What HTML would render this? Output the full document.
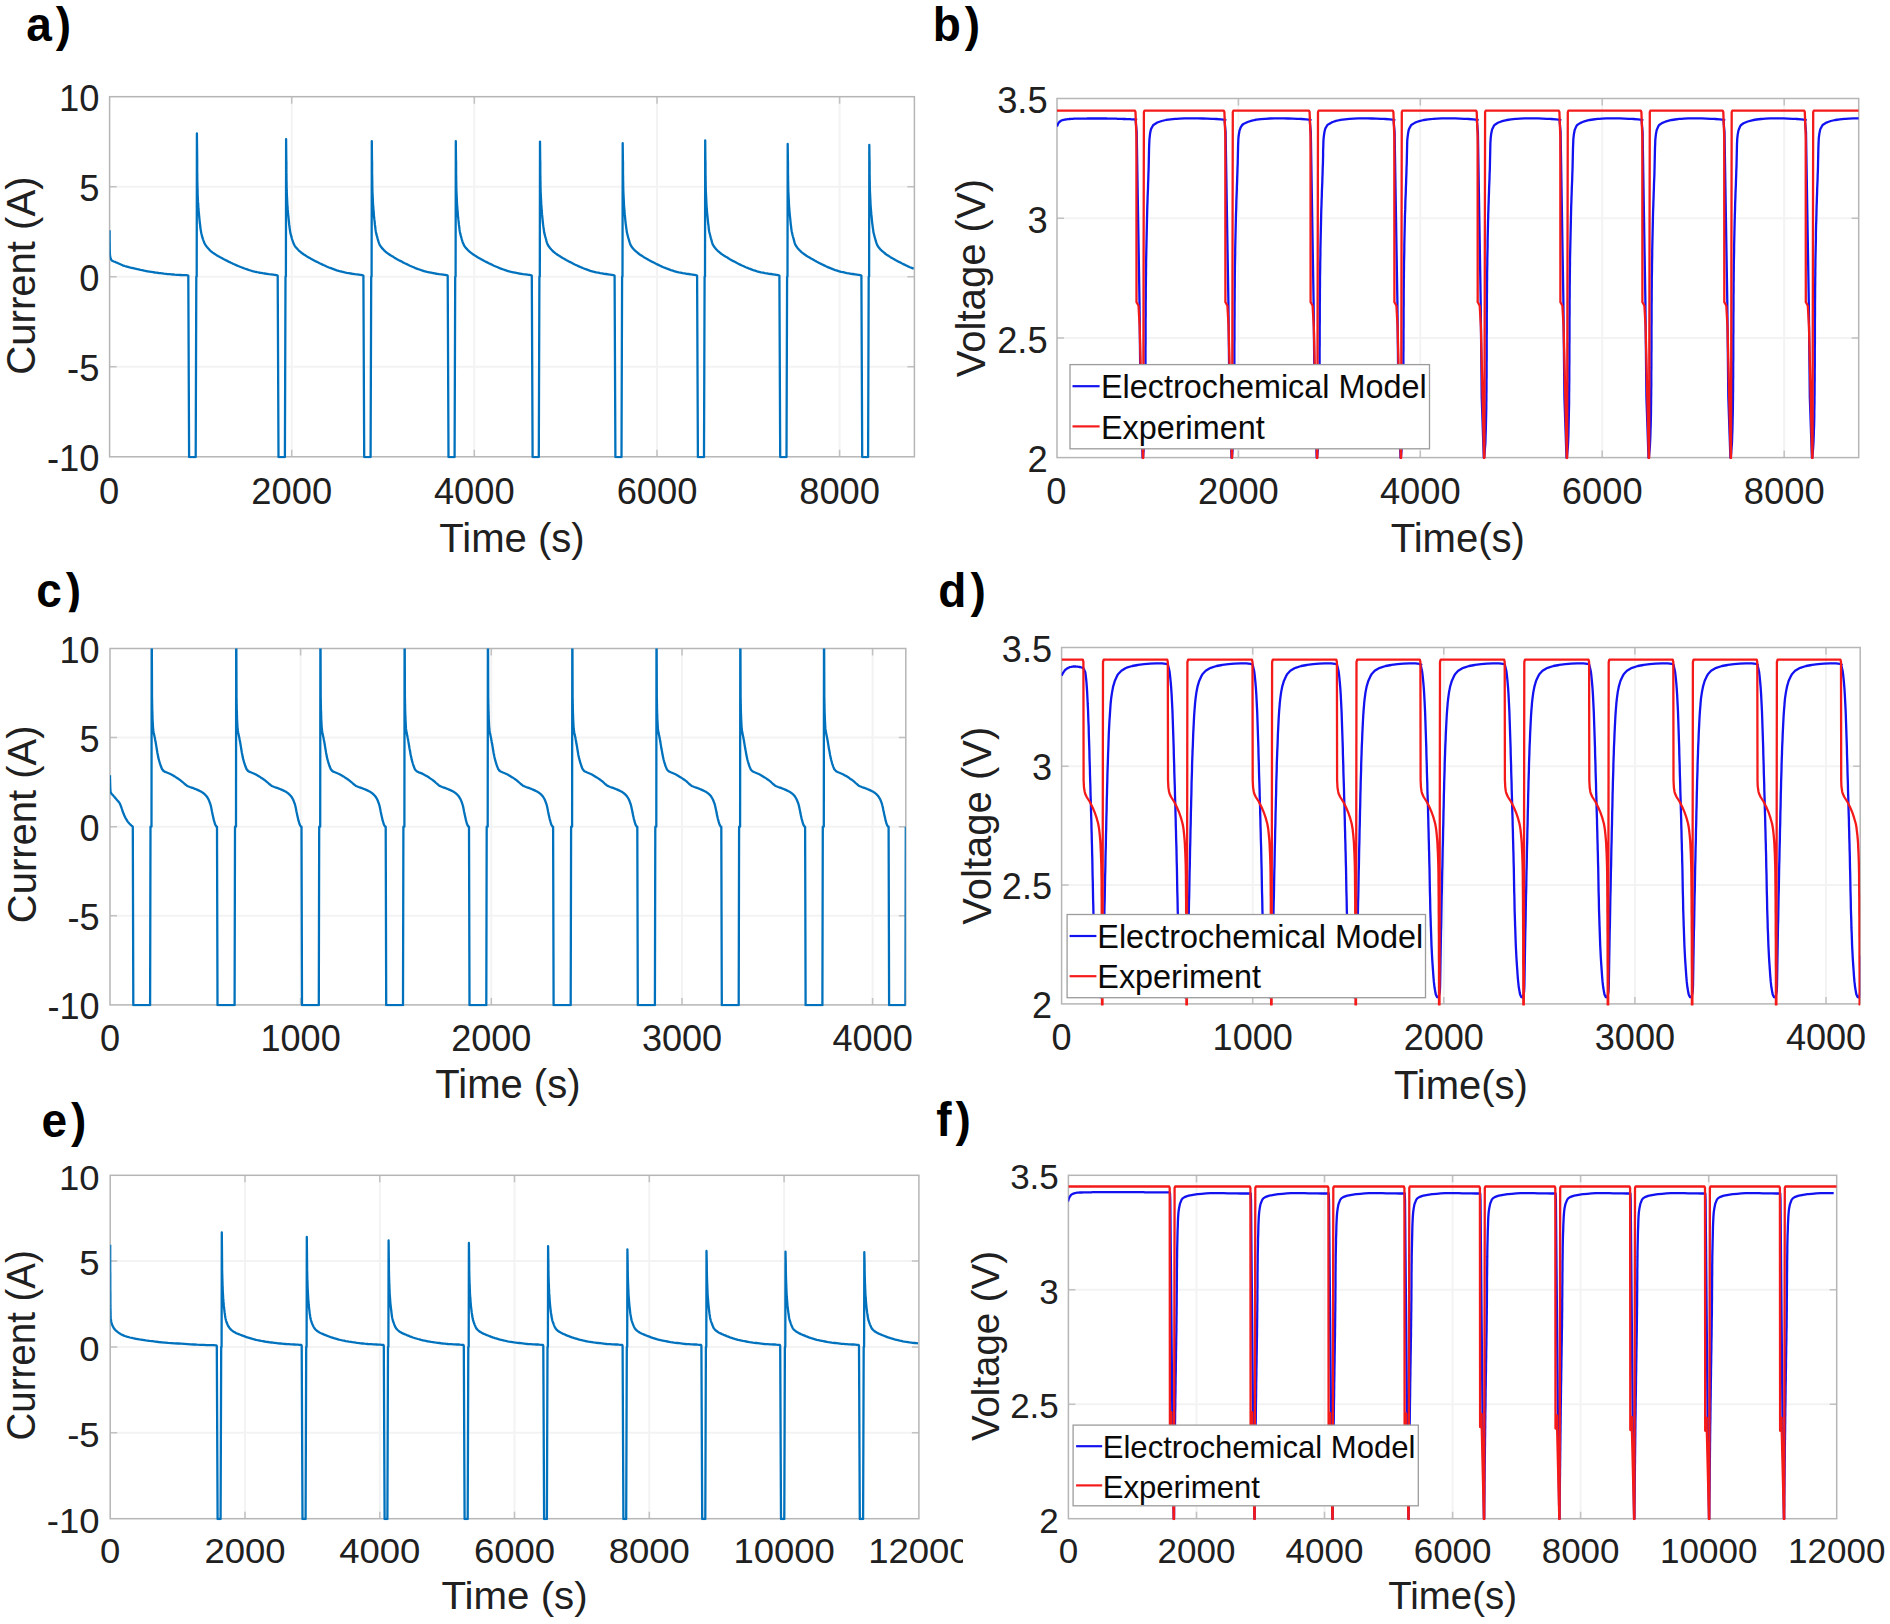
<!DOCTYPE html>
<html lang="en"><head><meta charset="utf-8"><title>Figure</title>
<style>html,body{margin:0;padding:0;background:#fff}body{width:1890px;height:1624px;overflow:hidden}svg{display:block}</style>
</head><body>
<svg width="1890" height="1624" viewBox="0 0 1890 1624">
<rect width="1890" height="1624" fill="#fff"/>
<defs>
<clipPath id="cp-a"><rect x="109.6" y="96.7" width="804.8" height="361.7"/></clipPath>
<clipPath id="cp-b"><rect x="1057" y="98.5" width="801.7" height="360.7"/></clipPath>
<clipPath id="cp-c"><rect x="110" y="648.5" width="795.8" height="358"/></clipPath>
<clipPath id="cp-d"><rect x="1061.6" y="647.5" width="798.6" height="358"/></clipPath>
<clipPath id="cp-e"><rect x="110.2" y="1175.3" width="808.7" height="345"/></clipPath>
<clipPath id="cp-f"><rect x="1068.4" y="1175.3" width="768.3" height="345"/></clipPath>
<clipPath id="cp-etext"><rect x="0" y="1150" width="963" height="474"/></clipPath>
<clipPath id="cp-ctag"><rect x="0" y="560" width="200" height="52.2"/></clipPath>
</defs>
<g id="ax-a">
<rect x="109.6" y="96.7" width="804.8" height="360.1" fill="#fff"/>
<path d="M291.7 96.7V456.8M474.3 96.7V456.8M657 96.7V456.8M839.6 96.7V456.8M109.6 186.7H914.4M109.6 276.8H914.4M109.6 366.8H914.4"  stroke="#f3f3f3" stroke-width="2" fill="none"/>
</g>
<g id="ax-b">
<rect x="1057" y="98.5" width="801.7" height="359.1" fill="#fff"/>
<path d="M1238.4 98.5V457.6M1420.3 98.5V457.6M1602.2 98.5V457.6M1784.2 98.5V457.6M1057 218.2H1858.7M1057 337.9H1858.7"  stroke="#f3f3f3" stroke-width="2" fill="none"/>
</g>
<g id="ax-c">
<rect x="110" y="648.5" width="795.8" height="356.4" fill="#fff"/>
<path d="M300.6 648.5V1004.9M491.3 648.5V1004.9M682 648.5V1004.9M872.6 648.5V1004.9M110 737.6H905.8M110 826.7H905.8M110 915.8H905.8"  stroke="#f3f3f3" stroke-width="2" fill="none"/>
</g>
<g id="ax-d">
<rect x="1061.6" y="647.5" width="798.6" height="356.4" fill="#fff"/>
<path d="M1252.7 647.5V1003.9M1443.8 647.5V1003.9M1634.9 647.5V1003.9M1826 647.5V1003.9M1061.6 766.3H1860.2M1061.6 885.1H1860.2"  stroke="#f3f3f3" stroke-width="2" fill="none"/>
</g>
<g id="ax-e">
<rect x="110.2" y="1175.3" width="808.7" height="343.4" fill="#fff"/>
<path d="M245 1175.3V1518.7M379.8 1175.3V1518.7M514.5 1175.3V1518.7M649.3 1175.3V1518.7M784.1 1175.3V1518.7M110.2 1261.1H918.9M110.2 1347H918.9M110.2 1432.8H918.9"  stroke="#f3f3f3" stroke-width="2" fill="none"/>
</g>
<g id="ax-f">
<rect x="1068.4" y="1175.3" width="768.3" height="343.4" fill="#fff"/>
<path d="M1196.5 1175.3V1518.7M1324.5 1175.3V1518.7M1452.6 1175.3V1518.7M1580.6 1175.3V1518.7M1708.7 1175.3V1518.7M1068.4 1289.8H1836.7M1068.4 1404.2H1836.7"  stroke="#f3f3f3" stroke-width="2" fill="none"/>
</g>
<path d="M291.7 456.8v-7M291.7 96.7v7M474.3 456.8v-7M474.3 96.7v7M657 456.8v-7M657 96.7v7M839.6 456.8v-7M839.6 96.7v7M109.6 186.7h7M914.4 186.7h-7M109.6 276.8h7M914.4 276.8h-7M109.6 366.8h7M914.4 366.8h-7" stroke="#c2c2c2" stroke-width="1.5" fill="none"/>
<rect x="109.6" y="96.7" width="804.8" height="360.1" fill="none" stroke="#b6b6b6" stroke-width="1.5"/>
<path d="M1238.4 457.6v-7M1238.4 98.5v7M1420.3 457.6v-7M1420.3 98.5v7M1602.2 457.6v-7M1602.2 98.5v7M1784.2 457.6v-7M1784.2 98.5v7M1057 218.2h7M1858.7 218.2h-7M1057 337.9h7M1858.7 337.9h-7" stroke="#c2c2c2" stroke-width="1.5" fill="none"/>
<rect x="1057" y="98.5" width="801.7" height="359.1" fill="none" stroke="#b6b6b6" stroke-width="1.5"/>
<path d="M300.6 1004.9v-7M300.6 648.5v7M491.3 1004.9v-7M491.3 648.5v7M682 1004.9v-7M682 648.5v7M872.6 1004.9v-7M872.6 648.5v7M110 737.6h7M905.8 737.6h-7M110 826.7h7M905.8 826.7h-7M110 915.8h7M905.8 915.8h-7" stroke="#c2c2c2" stroke-width="1.5" fill="none"/>
<rect x="110" y="648.5" width="795.8" height="356.4" fill="none" stroke="#b6b6b6" stroke-width="1.5"/>
<path d="M1252.7 1003.9v-7M1252.7 647.5v7M1443.8 1003.9v-7M1443.8 647.5v7M1634.9 1003.9v-7M1634.9 647.5v7M1826 1003.9v-7M1826 647.5v7M1061.6 766.3h7M1860.2 766.3h-7M1061.6 885.1h7M1860.2 885.1h-7" stroke="#c2c2c2" stroke-width="1.5" fill="none"/>
<rect x="1061.6" y="647.5" width="798.6" height="356.4" fill="none" stroke="#b6b6b6" stroke-width="1.5"/>
<path d="M245 1518.7v-7M245 1175.3v7M379.8 1518.7v-7M379.8 1175.3v7M514.5 1518.7v-7M514.5 1175.3v7M649.3 1518.7v-7M649.3 1175.3v7M784.1 1518.7v-7M784.1 1175.3v7M110.2 1261.1h7M918.9 1261.1h-7M110.2 1347h7M918.9 1347h-7M110.2 1432.8h7M918.9 1432.8h-7" stroke="#c2c2c2" stroke-width="1.5" fill="none"/>
<rect x="110.2" y="1175.3" width="808.7" height="343.4" fill="none" stroke="#b6b6b6" stroke-width="1.5"/>
<path d="M1196.5 1518.7v-7M1196.5 1175.3v7M1324.5 1518.7v-7M1324.5 1175.3v7M1452.6 1518.7v-7M1452.6 1175.3v7M1580.6 1518.7v-7M1580.6 1175.3v7M1708.7 1518.7v-7M1708.7 1175.3v7M1068.4 1289.8h7M1836.7 1289.8h-7M1068.4 1404.2h7M1836.7 1404.2h-7" stroke="#c2c2c2" stroke-width="1.5" fill="none"/>
<rect x="1068.4" y="1175.3" width="768.3" height="343.4" fill="none" stroke="#b6b6b6" stroke-width="1.5"/>
<path clip-path="url(#cp-a)" d="M109.6 230.2L109.6 232.1L109.6 233.9L109.6 235.8L109.6 237.6L109.6 239.4L109.6 241.3L109.7 243.1L109.7 245L109.7 246.8L109.7 248.6L109.8 250.5L109.8 252.3L109.8 252.4L109.9 254.1L110.2 256L110.4 257L110.6 257.8L111.1 259.6L111.2 259.8L112.1 260.7L113.8 261.5L115.7 262.2L117.5 263L117.6 263L119.2 263.7L120.9 264.5L122.6 265.3L124.3 265.9L124.6 266L126 266.4L127.8 266.9L129.6 267.4L131.4 267.8L133.2 268.2L135 268.6L136.6 269L136.8 269L138.6 269.4L140.4 269.9L142.2 270.2L144 270.6L145.8 271L147.6 271.3L149.3 271.6L149.4 271.6L151.2 271.9L153.1 272.2L154.9 272.5L156.7 272.7L158.5 273L160.4 273.2L162.2 273.4L164 273.7L165.9 273.9L167.7 274.1L169.5 274.2L171.4 274.4L173.2 274.5L173.9 274.6L175 274.7L176.9 274.8L178.7 274.9L180.5 275L182.4 275.1L184.2 275.2L186.1 275.2L187.9 275.3L188.3 275.7L189.1 457.1L195.7 457.1L196.3 276.7L196.7 276.7L196.9 133.4L197.2 160L197.2 162.1L197.2 164.2L197.2 166.3L197.2 168.4L197.2 170.5L197.2 172.6L197.3 174.7L197.3 176.8L197.3 178.9L197.3 181L197.4 183.1L197.4 185.2L197.5 187L197.5 187.3L197.5 189.4L197.6 191.4L197.6 193.5L197.7 195.6L197.8 197.7L197.9 199.8L198 201.9L198.2 203.8L198.2 204L198.3 206.1L198.4 208.2L198.6 210.3L198.8 212.4L199 214.2L199 214.5L199.2 216.6L199.4 218.6L199.6 220.7L199.8 222.8L200.1 224.7L200.1 224.9L200.3 227L200.6 229.1L200.9 231.1L201.1 232L201.3 233.2L201.8 235.2L202.3 237.3L202.7 238.3L203 239.3L203.7 241.2L204.5 243.2L205.2 244.6L205.5 245L206.7 246.7L208.1 248.3L209.5 249.8L209.5 249.9L211.1 251.3L212.7 252.6L214.4 253.8L214.8 254L216.2 254.9L218 256L219.8 257L221.7 258L222.1 258.2L223.5 259L225.4 260L227.2 260.9L229.1 261.9L231 262.8L232.6 263.5L232.9 263.7L234.8 264.5L236.7 265.4L238.7 266.2L240.6 267L242.6 267.8L243 267.9L244.5 268.5L246.5 269.2L248.5 269.9L250.5 270.5L252.5 271.1L253.5 271.3L254.5 271.6L256.6 272L258.6 272.5L260.7 272.8L262.8 273.2L264 273.4L264.8 273.5L266.9 273.8L269 274.1L271.1 274.3L273.2 274.6L274.4 274.8L275.2 274.9L277.3 275.3L277.7 275.7L278.5 457.1L284.9 457.1L285.5 276.7L285.9 276.7L286.1 139.1L286.3 160L286.4 162.1L286.4 164.1L286.4 166.2L286.4 168.2L286.4 170.3L286.4 172.4L286.4 174.4L286.5 176.5L286.5 178.5L286.5 180.6L286.6 182.6L286.6 184.7L286.6 186.8L286.6 187L286.7 188.8L286.7 190.9L286.8 192.9L286.9 195L287 197.1L287.1 199.1L287.2 201.2L287.3 203.2L287.3 203.8L287.4 205.3L287.6 207.3L287.7 209.4L287.9 211.4L288.1 213.5L288.1 214.2L288.3 215.5L288.5 217.6L288.7 219.6L288.9 221.7L289.1 223.7L289.2 224.7L289.4 225.8L289.6 227.8L289.9 229.9L290.2 231.9L290.2 232L290.6 233.9L291.2 235.9L291.7 237.9L291.8 238.3L292.3 239.9L293 241.9L293.7 243.8L294.1 244.6L294.6 245.6L295.8 247.2L297.2 248.8L298.1 249.8L298.6 250.3L300.1 251.7L301.8 253L303.2 254L303.4 254.2L305.2 255.3L306.9 256.4L308.7 257.4L310.2 258.2L310.5 258.4L312.3 259.4L314.1 260.4L315.9 261.4L317.8 262.3L319.6 263.2L320.2 263.5L321.5 264.1L323.3 265L325.2 265.8L327.1 266.7L329 267.5L330.1 267.9L330.9 268.2L332.8 268.9L334.8 269.6L336.7 270.3L338.7 270.9L340.2 271.3L340.7 271.4L342.7 271.9L344.7 272.4L346.7 272.8L348.8 273.1L350.2 273.4L350.8 273.5L352.8 273.8L354.9 274.1L356.9 274.3L358.9 274.6L360.2 274.8L361 274.9L363 275.3L363.4 275.7L364.2 457.1L370.6 457.1L371.2 276.7L371.6 276.7L371.8 141.1L372 160L372.1 162L372.1 164.1L372.1 166.1L372.1 168.2L372.1 170.2L372.1 172.3L372.1 174.3L372.2 176.4L372.2 178.4L372.2 180.4L372.3 182.5L372.3 184.5L372.3 186.6L372.3 187L372.4 188.6L372.4 190.7L372.5 192.7L372.6 194.7L372.7 196.8L372.8 198.8L372.9 200.9L373 202.9L373 203.8L373.1 205L373.3 207L373.4 209L373.6 211.1L373.8 213.1L373.8 214.2L373.9 215.1L374.1 217.2L374.3 219.2L374.6 221.2L374.8 223.3L374.9 224.7L375 225.3L375.3 227.3L375.5 229.4L375.8 231.4L375.9 232L376.2 233.4L376.7 235.4L377.3 237.3L377.5 238.3L377.8 239.3L378.4 241.3L379.1 243.3L379.6 244.6L379.9 245.1L381 246.8L382.3 248.4L383.6 249.8L383.7 249.9L385.2 251.3L386.7 252.6L388.4 253.9L388.6 254L390.1 255L391.8 256.1L393.6 257.1L395.3 258.2L395.4 258.2L397.1 259.2L398.9 260.2L400.7 261.1L402.5 262.1L404.3 263L405.3 263.5L406.2 263.9L408 264.8L409.9 265.7L411.7 266.5L413.6 267.3L415 267.9L415.5 268.1L417.4 268.8L419.3 269.5L421.3 270.2L423.2 270.8L424.9 271.3L425.2 271.4L427.1 271.9L429.1 272.3L431.1 272.7L433.2 273.1L434.8 273.4L435.2 273.5L437.2 273.8L439.2 274.1L441.2 274.3L443.3 274.6L444.5 274.8L445.3 274.9L447.3 275.3L447.7 275.7L448.5 457.1L454.6 457.1L455.2 276.7L455.6 276.7L455.8 141.1L456 160L456.1 162L456.1 164.1L456.1 166.1L456.1 168.2L456.1 170.2L456.1 172.3L456.1 174.3L456.2 176.4L456.2 178.4L456.2 180.5L456.3 182.5L456.3 184.5L456.3 186.6L456.3 187L456.4 188.6L456.4 190.7L456.5 192.7L456.6 194.8L456.7 196.8L456.8 198.8L456.9 200.9L457 202.9L457 203.8L457.1 205L457.3 207L457.4 209.1L457.6 211.1L457.8 213.1L457.8 214.2L457.9 215.2L458.1 217.2L458.3 219.2L458.6 221.3L458.8 223.3L458.9 224.7L459 225.3L459.3 227.4L459.5 229.4L459.8 231.4L459.9 232L460.2 233.4L460.7 235.4L461.3 237.4L461.5 238.3L461.8 239.4L462.4 241.3L463.1 243.3L463.7 244.6L463.9 245.1L465 246.8L466.3 248.4L467.6 249.8L467.7 249.9L469.2 251.3L470.8 252.7L472.4 253.9L472.6 254L474.1 255L475.8 256.1L477.6 257.2L479.4 258.2L479.4 258.2L481.2 259.2L483 260.2L484.8 261.2L486.6 262.1L488.4 263L489.3 263.5L490.2 263.9L492.1 264.8L493.9 265.7L495.8 266.5L497.7 267.3L499.1 267.9L499.6 268.1L501.5 268.8L503.4 269.5L505.3 270.2L507.3 270.8L509 271.3L509.3 271.4L511.2 271.9L513.2 272.3L515.2 272.7L517.3 273.1L518.8 273.4L519.3 273.5L521.3 273.8L523.3 274.1L525.3 274.3L527.4 274.6L528.6 274.8L529.4 274.9L531.4 275.3L531.8 275.7L532.6 457.1L538.8 457.1L539.4 276.7L539.8 276.7L540 141.6L540.2 160L540.3 162L540.3 164.1L540.3 166.1L540.3 168.1L540.3 170.2L540.3 172.2L540.3 174.2L540.4 176.2L540.4 178.3L540.4 180.3L540.5 182.3L540.5 184.4L540.5 186.4L540.5 187L540.6 188.4L540.6 190.5L540.7 192.5L540.8 194.5L540.9 196.5L541 198.6L541.1 200.6L541.2 202.6L541.2 203.8L541.3 204.6L541.4 206.7L541.6 208.7L541.7 210.7L541.9 212.7L542 214.2L542.1 214.8L542.3 216.8L542.5 218.8L542.7 220.8L542.9 222.8L543.1 224.7L543.2 224.9L543.4 226.9L543.7 228.9L544 230.9L544.1 232L544.3 232.9L544.8 234.9L545.3 236.8L545.8 238.3L545.9 238.8L546.4 240.8L547 242.8L547.7 244.6L547.7 244.6L548.7 246.3L550 248L551.3 249.5L551.6 249.8L552.7 251L554.3 252.3L555.9 253.6L556.5 254L557.5 254.7L559.2 255.8L561 256.9L562.7 257.9L563.2 258.2L564.5 258.9L566.2 259.9L568 260.9L569.8 261.9L571.6 262.8L572.9 263.5L573.4 263.8L575.2 264.7L577.1 265.5L578.9 266.4L580.8 267.2L582.5 267.9L582.7 268L584.5 268.7L586.4 269.4L588.4 270.1L590.3 270.8L592.2 271.3L592.2 271.3L594.2 271.8L596.2 272.3L598.2 272.7L600.2 273.1L601.9 273.4L602.2 273.4L604.2 273.8L606.2 274L608.2 274.3L610.2 274.6L611.5 274.8L612.2 274.9L614.2 275.3L614.6 275.7L615.4 457.1L621.5 457.1L622.1 276.7L622.5 276.7L622.7 143.1L622.9 160L623 162L623 164.1L623 166.1L623 168.1L623 170.1L623 172.2L623 174.2L623.1 176.2L623.1 178.3L623.1 180.3L623.2 182.3L623.2 184.3L623.2 186.4L623.2 187L623.3 188.4L623.3 190.4L623.4 192.4L623.5 194.5L623.6 196.5L623.7 198.5L623.8 200.6L623.9 202.6L623.9 203.8L624 204.6L624.1 206.6L624.3 208.6L624.4 210.7L624.6 212.7L624.7 214.2L624.8 214.7L625 216.7L625.2 218.8L625.4 220.8L625.6 222.8L625.8 224.7L625.9 224.8L626.1 226.8L626.4 228.8L626.7 230.8L626.8 232L627 232.8L627.5 234.8L628 236.8L628.4 238.3L628.6 238.7L629.1 240.7L629.7 242.7L630.4 244.5L630.4 244.6L631.3 246.3L632.6 247.9L633.9 249.5L634.3 249.8L635.3 250.9L636.9 252.2L638.5 253.5L639.1 254L640.1 254.7L641.8 255.8L643.5 256.9L645.3 257.9L645.8 258.2L647.1 258.9L648.8 259.9L650.6 260.9L652.4 261.9L654.2 262.8L655.5 263.5L656 263.7L657.8 264.6L659.6 265.5L661.5 266.4L663.3 267.2L665.1 267.9L665.2 267.9L667.1 268.7L669 269.4L670.9 270.1L672.8 270.7L674.7 271.3L674.8 271.3L676.7 271.8L678.7 272.3L680.7 272.7L682.7 273.1L684.4 273.4L684.7 273.4L686.7 273.8L688.7 274L690.7 274.3L692.7 274.6L694 274.8L694.7 274.9L696.7 275.3L697.1 275.7L697.9 457.1L704 457.1L704.6 276.7L705 276.7L705.2 140.3L705.4 160L705.5 162L705.5 164.1L705.5 166.1L705.5 168.1L705.5 170.1L705.5 172.2L705.5 174.2L705.6 176.2L705.6 178.2L705.6 180.3L705.7 182.3L705.7 184.3L705.7 186.3L705.7 187L705.8 188.4L705.8 190.4L705.9 192.4L706 194.4L706.1 196.5L706.2 198.5L706.3 200.5L706.4 202.5L706.4 203.8L706.5 204.6L706.6 206.6L706.8 208.6L706.9 210.6L707.1 212.6L707.2 214.2L707.3 214.7L707.5 216.7L707.7 218.7L707.9 220.7L708.1 222.7L708.3 224.7L708.4 224.7L708.6 226.7L708.8 228.8L709.1 230.8L709.3 232L709.5 232.8L710 234.7L710.5 236.7L710.9 238.3L711 238.6L711.6 240.6L712.1 242.6L712.8 244.5L712.9 244.6L713.8 246.2L715 247.8L716.3 249.4L716.7 249.8L717.7 250.8L719.3 252.2L720.9 253.5L721.6 254L722.5 254.6L724.2 255.8L725.9 256.8L727.7 257.8L728.3 258.2L729.4 258.9L731.2 259.9L732.9 260.9L734.7 261.8L736.5 262.8L737.9 263.5L738.3 263.7L740.1 264.6L742 265.5L743.8 266.3L745.7 267.2L747.5 267.9L747.5 267.9L749.4 268.7L751.3 269.4L753.2 270.1L755.1 270.7L757.1 271.3L757.1 271.3L759 271.8L761 272.3L763 272.7L765 273.1L766.7 273.4L767 273.4L769 273.8L771 274L773 274.3L775 274.6L776.3 274.8L777 274.9L779 275.3L779.4 275.7L780.2 457.1L786.5 457.1L787.1 276.7L787.5 276.7L787.7 144L787.9 160L788 162L788 164L788 166.1L788 168.1L788 170.1L788 172.1L788 174.1L788.1 176.2L788.1 178.2L788.1 180.2L788.2 182.2L788.2 184.2L788.2 186.3L788.2 187L788.3 188.3L788.3 190.3L788.4 192.3L788.5 194.3L788.6 196.4L788.7 198.4L788.8 200.4L788.9 202.4L788.9 203.8L789 204.4L789.1 206.5L789.3 208.5L789.4 210.5L789.6 212.5L789.7 214.2L789.8 214.5L790 216.5L790.2 218.5L790.4 220.5L790.6 222.6L790.8 224.6L790.8 224.7L791.1 226.6L791.3 228.6L791.6 230.6L791.8 232L792 232.6L792.4 234.5L792.9 236.5L793.4 238.3L793.5 238.4L794 240.4L794.5 242.4L795.2 244.3L795.3 244.6L796.1 246L797.3 247.7L798.6 249.2L799.1 249.8L800 250.7L801.5 252.1L803.1 253.3L804 254L804.7 254.5L806.4 255.7L808.1 256.7L809.9 257.7L810.6 258.2L811.6 258.8L813.4 259.8L815.1 260.8L816.9 261.8L818.7 262.7L820.2 263.5L820.5 263.6L822.3 264.5L824.1 265.4L825.9 266.3L827.8 267.1L829.6 267.9L829.7 267.9L831.5 268.6L833.4 269.4L835.3 270.1L837.2 270.7L839.2 271.3L839.3 271.3L841.1 271.8L843.1 272.2L845 272.7L847 273.1L848.8 273.4L849 273.4L851 273.8L853 274L855 274.3L857 274.6L858.3 274.8L859 274.9L861 275.3L861.4 275.7L862.2 457.1L868.1 457.1L868.7 276.7L869.1 276.7L869.3 144.8L869.5 160L869.6 162L869.6 164.1L869.6 166.1L869.6 168.1L869.6 170.1L869.6 172.2L869.6 174.2L869.7 176.2L869.7 178.3L869.7 180.3L869.8 182.3L869.8 184.3L869.8 186.4L869.8 187L869.9 188.4L869.9 190.4L870 192.4L870.1 194.5L870.2 196.5L870.3 198.5L870.4 200.6L870.5 202.6L870.5 203.8L870.6 204.6L870.7 206.6L870.9 208.6L871 210.7L871.2 212.7L871.3 214.2L871.4 214.7L871.6 216.7L871.8 218.8L872 220.8L872.2 222.8L872.4 224.7L872.5 224.8L872.7 226.8L873 228.8L873.3 230.8L873.4 232L873.6 232.8L874.1 234.8L874.6 236.8L875 238.3L875.2 238.7L875.7 240.7L876.3 242.7L877 244.5L877 244.6L877.9 246.3L879.2 247.9L880.5 249.5L880.9 249.8L881.9 250.9L883.5 252.2L885.1 253.5L885.7 254L886.7 254.7L888.4 255.8L890.1 256.9L891.9 257.9L892.4 258.2L893.7 258.9L895.4 259.9L897.2 260.9L899 261.9L900.8 262.8L902.1 263.5L902.6 263.7L904.4 264.6L906.2 265.5L908.1 266.4L909.9 267.2L911.7 267.9L911.8 267.9L913.7 268.7" fill="none" stroke="#0072bd" stroke-width="2.3" stroke-linejoin="round"/>
<path clip-path="url(#cp-c)" d="M110 775.3L110 776.5L110 777.7L110 778.9L110.1 780.1L110.1 781.3L110.1 782.4L110.2 783.6L110.2 784.8L110.2 785L110.2 786L110.3 787.3L110.3 788.5L110.4 789.7L110.5 790.8L110.5 791.3L110.6 791.9L111 792.9L111.7 793.9L112.5 794.8L113.4 795.8L114.3 796.7L114.9 797.5L115 797.7L115.8 798.6L116.6 799.5L117.4 800.4L118.2 801.3L118.9 802.2L119.6 803.2L119.8 803.6L120.1 804.2L120.6 805.3L121 806.4L121.4 807.5L121.8 808.7L122.2 809.8L122.5 811L122.9 812.1L123.4 813.2L123.5 813.5L123.8 814.3L124.3 815.4L124.8 816.5L125.3 817.6L125.9 818.7L126.5 819.7L127.1 820.7L127.2 820.9L127.7 821.6L128.5 822.6L129.3 823.5L130.1 824.3L130.9 825.1L131 825.2L131.9 826L132.8 826.7L132.8 826.7L133.3 1005.2L150.1 1005.2L150.5 826.7L151.5 826.7L151.7 608.5L152 690L152 691.9L152 693.8L152 695.6L152 697.5L152.1 699.4L152.1 701.2L152.1 703.1L152.2 705L152.2 706.8L152.2 708.7L152.3 710.5L152.4 712.4L152.4 714.3L152.5 716.1L152.5 718L152.6 719.8L152.7 721.7L152.8 723.5L152.9 725.4L152.9 726.2L153 727.2L153.2 729L153.4 730.9L153.7 732.7L154.1 734.5L154.5 736.4L154.9 738.2L155.2 740L155.4 741L155.6 741.9L155.9 743.7L156.2 745.6L156.5 747.4L156.8 749.2L157.1 751.1L157.4 752.9L157.8 754.7L158.1 756.6L158.5 758.2L158.5 758.4L159 760.2L159.5 762L160 763.7L160.6 765.5L161 766.5L161.3 767.3L162 769L162.2 769.3L163.1 770.5L163.7 771L164.5 771.6L166.2 772.3L168 773L169.8 773.7L170.8 774.2L171.4 774.5L173.1 775.4L174.7 776.4L176.2 777.4L177.8 778.4L179.3 779.5L180.6 780.4L180.8 780.6L182.3 781.8L183.7 783L185.1 784.3L186.6 785.4L187.4 785.9L188.1 786.3L189.8 787L191.6 787.6L193.4 788.2L195.1 788.9L195.4 789L196.9 789.6L198.6 790.4L200.3 791.2L201.9 792.1L202.8 792.7L203.4 793.1L204.8 794.4L206.1 795.7L207.1 797L207.2 797.2L208.2 798.8L209 800.5L209.7 802.3L210.2 803.8L210.3 804L210.8 805.8L211.2 807.6L211.6 809.4L211.9 811.3L212.3 813.1L212.7 814.9L212.7 814.9L213.1 816.7L213.5 818.6L213.9 820.4L214.5 822.2L214.5 822.3L215 824L215.8 825.7L216.3 826.5L217 827L217 826.7L217.5 1005.2L234.6 1005.2L235 826.7L236 826.7L236.2 608.5L236.5 690L236.5 691.9L236.5 693.8L236.5 695.6L236.5 697.5L236.6 699.4L236.6 701.2L236.6 703.1L236.7 705L236.7 706.8L236.7 708.7L236.8 710.5L236.9 712.4L236.9 714.3L237 716.1L237 718L237.1 719.8L237.2 721.7L237.3 723.5L237.4 725.4L237.4 726.2L237.5 727.2L237.7 729L237.9 730.9L238.2 732.7L238.6 734.5L239 736.4L239.4 738.2L239.7 740L239.9 741L240.1 741.9L240.4 743.7L240.7 745.6L241 747.4L241.3 749.2L241.6 751.1L241.9 752.9L242.3 754.7L242.6 756.6L243 758.2L243 758.4L243.5 760.2L244 762L244.5 763.7L245.1 765.5L245.5 766.5L245.8 767.3L246.5 769L246.7 769.3L247.6 770.5L248.2 771L249 771.6L250.7 772.3L252.5 773L254.3 773.7L255.3 774.2L255.9 774.5L257.6 775.4L259.2 776.4L260.7 777.4L262.3 778.4L263.8 779.5L265.1 780.4L265.3 780.6L266.8 781.8L268.2 783L269.6 784.3L271.1 785.4L271.9 785.9L272.6 786.3L274.3 787L276.1 787.6L277.9 788.2L279.6 788.9L279.9 789L281.4 789.6L283.1 790.4L284.8 791.2L286.4 792.1L287.3 792.7L287.9 793.1L289.3 794.4L290.6 795.7L291.6 797L291.7 797.2L292.7 798.8L293.5 800.5L294.2 802.3L294.7 803.8L294.8 804L295.3 805.8L295.7 807.6L296.1 809.4L296.4 811.3L296.8 813.1L297.2 814.9L297.2 814.9L297.6 816.7L298 818.6L298.4 820.4L299 822.2L299 822.3L299.5 824L300.3 825.7L300.8 826.5L301.5 827L301.5 826.7L302 1005.2L318.8 1005.2L319.2 826.7L320.2 826.7L320.4 608.5L320.7 690L320.7 691.9L320.7 693.8L320.7 695.6L320.7 697.5L320.8 699.4L320.8 701.2L320.8 703.1L320.9 705L320.9 706.8L320.9 708.7L321 710.5L321.1 712.4L321.1 714.3L321.2 716.1L321.2 718L321.3 719.8L321.4 721.7L321.5 723.5L321.6 725.4L321.6 726.2L321.7 727.2L321.9 729L322.1 730.9L322.4 732.7L322.8 734.5L323.2 736.4L323.6 738.2L323.9 740L324.1 741L324.3 741.9L324.6 743.7L324.9 745.6L325.2 747.4L325.5 749.2L325.8 751.1L326.1 752.9L326.5 754.7L326.8 756.6L327.2 758.2L327.2 758.4L327.7 760.2L328.2 762L328.7 763.7L329.3 765.5L329.7 766.5L330 767.3L330.7 769L330.9 769.3L331.8 770.5L332.4 771L333.2 771.6L334.9 772.3L336.7 773L338.5 773.7L339.5 774.2L340.1 774.5L341.8 775.4L343.4 776.4L344.9 777.4L346.5 778.4L348 779.5L349.3 780.4L349.5 780.6L351 781.8L352.4 783L353.8 784.3L355.3 785.4L356.1 785.9L356.8 786.3L358.5 787L360.3 787.6L362.1 788.2L363.8 788.9L364.1 789L365.6 789.6L367.3 790.4L369 791.2L370.6 792.1L371.5 792.7L372.1 793.1L373.5 794.4L374.8 795.7L375.8 797L375.9 797.2L376.9 798.8L377.7 800.5L378.4 802.3L378.9 803.8L379 804L379.5 805.8L379.9 807.6L380.3 809.4L380.6 811.3L381 813.1L381.4 814.9L381.4 814.9L381.8 816.7L382.2 818.6L382.6 820.4L383.2 822.2L383.2 822.3L383.7 824L384.5 825.7L385 826.5L385.7 827L385.7 826.7L386.2 1005.2L403 1005.2L403.4 826.7L404.4 826.7L404.6 608.5L404.9 690L404.9 691.9L404.9 693.7L404.9 695.6L404.9 697.5L405 699.3L405 701.2L405 703.1L405.1 704.9L405.1 706.8L405.1 708.6L405.2 710.5L405.2 712.3L405.3 714.2L405.4 716L405.4 717.9L405.5 719.7L405.6 721.5L405.7 723.4L405.8 725.2L405.8 726.2L405.9 727.1L406 728.9L406.3 730.7L406.6 732.6L407 734.4L407.4 736.2L407.7 738L408.1 739.9L408.3 741L408.4 741.7L408.7 743.5L409 745.3L409.3 747.2L409.6 749L410 750.8L410.3 752.7L410.6 754.5L411 756.3L411.4 758.1L411.4 758.2L411.8 759.9L412.3 761.7L412.8 763.5L413.4 765.3L413.8 766.5L414 767L414.7 768.8L415 769.3L415.7 770.3L416.4 771L417.1 771.4L418.7 772.3L420.5 772.9L422.2 773.6L423.4 774.2L423.9 774.5L425.5 775.4L427.1 776.3L428.7 777.3L430.2 778.4L431.7 779.4L433.1 780.4L433.2 780.5L434.7 781.7L436.1 783L437.5 784.2L438.9 785.4L439.8 785.9L440.5 786.2L442.2 787L443.9 787.6L445.7 788.2L447.4 788.9L447.7 789L449.1 789.6L450.9 790.4L452.6 791.2L454.1 792.1L455 792.7L455.6 793.2L457 794.4L458.3 795.8L459.2 797L459.4 797.3L460.3 798.8L461.1 800.6L461.8 802.3L462.3 803.8L462.4 804.1L462.9 805.8L463.3 807.6L463.7 809.5L464 811.3L464.4 813.1L464.8 814.9L464.8 814.9L465.2 816.8L465.6 818.6L466 820.4L466.5 822.2L466.5 822.3L467.1 824L467.8 825.7L468.3 826.5L469 827L469 826.7L469.5 1005.2L486.3 1005.2L486.7 826.7L487.7 826.7L487.9 608.5L488.2 690L488.2 691.9L488.2 693.8L488.2 695.6L488.2 697.5L488.3 699.4L488.3 701.2L488.3 703.1L488.4 705L488.4 706.8L488.4 708.7L488.5 710.5L488.6 712.4L488.6 714.2L488.7 716.1L488.7 717.9L488.8 719.8L488.9 721.6L489 723.5L489.1 725.3L489.1 726.2L489.2 727.2L489.4 729L489.6 730.9L489.9 732.7L490.3 734.5L490.7 736.4L491.1 738.2L491.4 740L491.6 741L491.7 741.9L492.1 743.7L492.4 745.5L492.7 747.4L493 749.2L493.3 751L493.6 752.9L494 754.7L494.3 756.5L494.7 758.2L494.7 758.3L495.2 760.1L495.7 761.9L496.2 763.7L496.8 765.5L497.2 766.5L497.5 767.2L498.2 769L498.4 769.3L499.3 770.5L499.9 771L500.7 771.5L502.4 772.3L504.1 773L505.9 773.7L507 774.2L507.6 774.5L509.2 775.4L510.8 776.4L512.4 777.4L513.9 778.4L515.5 779.5L516.8 780.4L517 780.6L518.4 781.8L519.8 783L521.2 784.3L522.7 785.4L523.5 785.9L524.3 786.3L526 787L527.7 787.6L529.5 788.2L531.3 788.9L531.5 789L533 789.6L534.7 790.4L536.4 791.2L538 792.1L538.9 792.7L539.5 793.1L541 794.4L542.3 795.8L543.2 797L543.4 797.2L544.3 798.8L545.1 800.5L545.8 802.3L546.3 803.8L546.4 804L546.9 805.8L547.3 807.6L547.7 809.4L548 811.3L548.4 813.1L548.8 814.9L548.8 814.9L549.2 816.7L549.6 818.6L550.1 820.4L550.6 822.2L550.6 822.3L551.1 824L551.9 825.7L552.4 826.5L553.1 827L553.1 826.7L553.6 1005.2L570.7 1005.2L571.1 826.7L572.1 826.7L572.3 608.5L572.6 690L572.6 691.9L572.6 693.7L572.6 695.6L572.6 697.5L572.7 699.4L572.7 701.2L572.7 703.1L572.8 704.9L572.8 706.8L572.8 708.7L572.9 710.5L572.9 712.4L573 714.2L573.1 716.1L573.1 717.9L573.2 719.8L573.3 721.6L573.4 723.5L573.5 725.3L573.5 726.2L573.6 727.2L573.7 729L574 730.8L574.3 732.7L574.7 734.5L575.1 736.3L575.5 738.2L575.8 740L576 741L576.1 741.8L576.4 743.6L576.8 745.5L577.1 747.3L577.4 749.2L577.7 751L578 752.8L578.3 754.7L578.7 756.5L579.1 758.2L579.1 758.3L579.6 760.1L580.1 761.9L580.6 763.7L581.2 765.4L581.6 766.5L581.8 767.2L582.5 768.9L582.8 769.3L583.6 770.4L584.2 771L585 771.5L586.7 772.3L588.4 773L590.2 773.7L591.3 774.2L591.9 774.5L593.5 775.4L595.1 776.4L596.7 777.4L598.2 778.4L599.8 779.5L601.1 780.4L601.3 780.6L602.7 781.7L604.1 783L605.5 784.3L607 785.4L607.8 785.9L608.6 786.3L610.2 787L612 787.6L613.8 788.2L615.5 788.9L615.8 789L617.3 789.6L619 790.4L620.7 791.2L622.3 792.1L623.2 792.7L623.8 793.1L625.2 794.4L626.5 795.8L627.4 797L627.6 797.2L628.5 798.8L629.3 800.5L630 802.3L630.5 803.8L630.6 804L631.1 805.8L631.5 807.6L631.9 809.4L632.3 811.3L632.6 813.1L633 814.9L633 814.9L633.4 816.7L633.8 818.6L634.3 820.4L634.8 822.2L634.8 822.3L635.3 824L636.1 825.7L636.6 826.5L637.3 827L637.3 826.7L637.8 1005.2L654.9 1005.2L655.3 826.7L656.3 826.7L656.5 608.5L656.8 690L656.8 691.9L656.8 693.7L656.8 695.6L656.8 697.5L656.9 699.3L656.9 701.2L656.9 703.1L657 704.9L657 706.8L657 708.6L657.1 710.5L657.1 712.4L657.2 714.2L657.3 716.1L657.3 717.9L657.4 719.8L657.5 721.6L657.6 723.4L657.7 725.3L657.7 726.2L657.8 727.1L657.9 729L658.2 730.8L658.5 732.6L658.9 734.5L659.3 736.3L659.6 738.1L660 739.9L660.2 741L660.3 741.8L660.6 743.6L660.9 745.4L661.2 747.3L661.5 749.1L661.9 750.9L662.2 752.8L662.5 754.6L662.9 756.4L663.3 758.2L663.3 758.2L663.7 760L664.2 761.8L664.8 763.6L665.3 765.4L665.7 766.5L666 767.1L666.7 768.9L666.9 769.3L667.7 770.4L668.4 771L669.1 771.5L670.8 772.3L672.5 773L674.3 773.7L675.5 774.2L676 774.5L677.6 775.4L679.2 776.4L680.8 777.4L682.3 778.4L683.9 779.5L685.2 780.4L685.4 780.5L686.8 781.7L688.2 783L689.6 784.3L691.1 785.4L691.9 785.9L692.6 786.3L694.3 787L696.1 787.6L697.9 788.2L699.6 788.9L699.9 789L701.3 789.6L703 790.4L704.7 791.2L706.3 792.1L707.2 792.7L707.8 793.2L709.3 794.4L710.6 795.8L711.5 797L711.6 797.2L712.5 798.8L713.3 800.5L714 802.3L714.6 803.8L714.6 804L715.1 805.8L715.5 807.6L715.9 809.4L716.3 811.3L716.6 813.1L717 814.9L717 814.9L717.4 816.7L717.8 818.6L718.3 820.4L718.8 822.2L718.8 822.3L719.4 824L720.1 825.7L720.6 826.5L721.3 827L721.3 826.7L721.8 1005.2L738.7 1005.2L739.1 826.7L740.1 826.7L740.3 608.5L740.6 690L740.6 691.9L740.6 693.7L740.6 695.6L740.6 697.5L740.7 699.3L740.7 701.2L740.7 703.1L740.8 704.9L740.8 706.8L740.8 708.6L740.9 710.5L740.9 712.4L741 714.2L741.1 716.1L741.1 717.9L741.2 719.8L741.3 721.6L741.4 723.4L741.5 725.3L741.5 726.2L741.6 727.1L741.7 729L742 730.8L742.3 732.6L742.7 734.5L743.1 736.3L743.4 738.1L743.8 739.9L744 741L744.1 741.8L744.4 743.6L744.7 745.4L745 747.3L745.3 749.1L745.7 750.9L746 752.8L746.3 754.6L746.7 756.4L747.1 758.2L747.1 758.2L747.5 760L748 761.8L748.6 763.6L749.1 765.4L749.5 766.5L749.8 767.1L750.5 768.9L750.7 769.3L751.5 770.4L752.2 771L752.9 771.5L754.6 772.3L756.3 773L758.1 773.7L759.3 774.2L759.8 774.5L761.4 775.4L763 776.4L764.6 777.4L766.1 778.4L767.7 779.5L769 780.4L769.2 780.5L770.6 781.7L772 783L773.4 784.3L774.9 785.4L775.7 785.9L776.4 786.3L778.1 787L779.9 787.6L781.7 788.2L783.4 788.9L783.7 789L785.1 789.6L786.8 790.4L788.5 791.2L790.1 792.1L791 792.7L791.6 793.2L793.1 794.4L794.4 795.8L795.3 797L795.4 797.2L796.3 798.8L797.1 800.5L797.8 802.3L798.4 803.8L798.4 804L798.9 805.8L799.3 807.6L799.7 809.4L800.1 811.3L800.4 813.1L800.8 814.9L800.8 814.9L801.2 816.7L801.6 818.6L802.1 820.4L802.6 822.2L802.6 822.3L803.2 824L803.9 825.7L804.4 826.5L805.1 827L805.1 826.7L805.6 1005.2L822.4 1005.2L822.8 826.7L823.8 826.7L824 608.5L824.3 690L824.3 691.9L824.3 693.7L824.3 695.6L824.3 697.5L824.4 699.3L824.4 701.2L824.4 703.1L824.5 704.9L824.5 706.8L824.5 708.6L824.6 710.5L824.6 712.3L824.7 714.2L824.8 716L824.8 717.9L824.9 719.7L825 721.6L825.1 723.4L825.2 725.3L825.2 726.2L825.3 727.1L825.4 728.9L825.7 730.8L826 732.6L826.4 734.4L826.8 736.2L827.1 738.1L827.5 739.9L827.7 741L827.8 741.7L828.1 743.6L828.4 745.4L828.7 747.2L829 749.1L829.4 750.9L829.7 752.7L830 754.5L830.4 756.4L830.8 758.2L830.8 758.2L831.2 760L831.7 761.8L832.2 763.6L832.8 765.3L833.2 766.5L833.4 767.1L834.1 768.8L834.4 769.3L835.2 770.3L835.9 771L836.6 771.5L838.2 772.3L840 773L841.7 773.7L842.9 774.2L843.4 774.5L845 775.4L846.6 776.3L848.2 777.3L849.7 778.4L851.3 779.4L852.6 780.4L852.8 780.5L854.2 781.7L855.6 783L857 784.2L858.4 785.4L859.3 785.9L860 786.3L861.7 787L863.4 787.6L865.2 788.2L867 788.9L867.2 789L868.7 789.6L870.4 790.4L872.1 791.2L873.7 792.1L874.6 792.7L875.2 793.2L876.6 794.4L877.9 795.8L878.8 797L879 797.3L879.9 798.8L880.7 800.5L881.4 802.3L881.9 803.8L882 804.1L882.4 805.8L882.9 807.6L883.2 809.5L883.6 811.3L884 813.1L884.3 814.9L884.4 814.9L884.8 816.8L885.2 818.6L885.6 820.4L886.1 822.2L886.1 822.3L886.7 824L887.4 825.7L887.9 826.5L888.6 827L888.6 826.7L889.1 1005.2L905.4 1005.2L905.8 826.7" fill="none" stroke="#0072bd" stroke-width="2.3" stroke-linejoin="round"/>
<path clip-path="url(#cp-e)" d="M110.2 1244.8L110.2 1248L110.2 1251.2L110.2 1254.4L110.2 1257.7L110.2 1260.9L110.2 1264.1L110.2 1267.3L110.2 1270.5L110.3 1273.7L110.3 1277L110.3 1280.2L110.3 1283.4L110.3 1286.6L110.3 1289.8L110.4 1293L110.4 1296.2L110.4 1299.5L110.4 1300L110.4 1302.7L110.4 1305.9L110.5 1309.1L110.6 1312.3L110.6 1315.6L110.7 1317.5L110.8 1318.7L111.3 1322L112.2 1325L112.2 1325L113.7 1328L115.1 1329.8L115.7 1330.4L118.1 1332.4L120.9 1334.2L123.9 1335.6L124.9 1336L126.8 1336.6L129.9 1337.5L133 1338.2L136.1 1338.8L139.4 1339.4L142.6 1339.9L145.8 1340.4L149 1340.8L149.6 1340.9L152.2 1341.2L155.4 1341.6L158.6 1342L161.8 1342.3L165 1342.6L168.2 1342.9L171.4 1343.1L174.2 1343.3L174.6 1343.3L177.9 1343.5L181.1 1343.7L184.3 1343.9L187.5 1344.1L190.7 1344.3L193.9 1344.5L197.1 1344.7L200.3 1344.8L203.5 1344.9L206.7 1345.1L210 1345.2L213.2 1345.2L216.4 1345.3L216.8 1346L217.6 1519L220.6 1519L221.2 1347L221.6 1347L221.8 1232.5L222.1 1265L222.1 1266.8L222.1 1268.5L222.1 1270.3L222.2 1272L222.2 1273.8L222.3 1275.6L222.3 1277.3L222.4 1279.1L222.4 1280.8L222.5 1282.6L222.5 1284.4L222.6 1286.1L222.7 1287.9L222.7 1289L222.7 1289.6L222.8 1291.4L222.9 1293.1L223 1294.9L223.1 1296.7L223.2 1298.4L223.4 1300.2L223.5 1301.9L223.5 1301.9L223.7 1303.7L223.8 1305.4L224 1307.2L224.2 1308.9L224.4 1310.5L224.4 1310.7L224.6 1312.4L224.9 1314.2L225.1 1315.9L225.4 1317.7L225.7 1319.1L225.8 1319.4L226.2 1321.1L226.8 1322.8L227.4 1324.3L227.4 1324.4L228.2 1326L229.2 1327.5L230 1328.6L230.2 1328.9L231.5 1330.1L232.9 1331.2L234.3 1332.1L234.4 1332.1L235.9 1333L237.5 1333.7L239.2 1334.3L240.8 1335L241.2 1335.1L242.5 1335.6L244.1 1336.2L245.8 1336.8L247.4 1337.4L249.1 1337.9L249.8 1338.1L250.8 1338.4L252.5 1338.9L254.2 1339.3L255.9 1339.8L257.6 1340.2L259.3 1340.5L260.2 1340.7L261.1 1340.9L262.8 1341.2L264.5 1341.5L266.3 1341.8L268 1342L269.8 1342.3L271.5 1342.5L273.2 1342.7L273.9 1342.8L275 1342.9L276.7 1343.1L278.5 1343.3L280.2 1343.5L282 1343.7L283.7 1343.9L285.5 1344L286.8 1344.1L287.3 1344.1L289 1344.2L290.8 1344.3L292.5 1344.4L294.3 1344.5L296 1344.6L297.8 1344.7L299.6 1344.8L299.7 1344.8L301.3 1345L301.7 1346L302.5 1519L305.6 1519L306.2 1347L306.6 1347L306.8 1237L307.1 1265L307.1 1266.7L307.1 1268.5L307.1 1270.2L307.2 1271.9L307.2 1273.6L307.2 1275.4L307.3 1277.1L307.3 1278.8L307.4 1280.5L307.5 1282.3L307.5 1284L307.6 1285.7L307.6 1287.4L307.7 1289L307.7 1289.2L307.8 1290.9L307.9 1292.6L308 1294.3L308.1 1296.1L308.2 1297.8L308.3 1299.5L308.4 1301.2L308.5 1301.9L308.6 1302.9L308.7 1304.7L308.9 1306.4L309.1 1308.1L309.3 1309.8L309.4 1310.5L309.5 1311.5L309.7 1313.2L310 1315L310.2 1316.7L310.5 1318.4L310.7 1319.1L310.9 1320L311.4 1321.7L312 1323.3L312.4 1324.3L312.7 1324.9L313.4 1326.5L314.3 1328L314.7 1328.6L315.3 1329.3L316.6 1330.5L318 1331.6L318.8 1332.1L319.5 1332.5L321 1333.2L322.6 1333.9L324.2 1334.6L325.5 1335.1L325.8 1335.2L327.4 1335.9L329 1336.5L330.6 1337.1L332.3 1337.6L333.7 1338.1L333.9 1338.2L335.6 1338.6L337.2 1339.1L338.9 1339.6L340.6 1340L342.3 1340.4L343.8 1340.7L344 1340.7L345.6 1341.1L347.3 1341.4L349 1341.7L350.8 1341.9L352.5 1342.2L354.2 1342.4L355.9 1342.7L357 1342.8L357.6 1342.9L359.3 1343.1L361 1343.3L362.7 1343.5L364.5 1343.7L366.2 1343.8L367.9 1344L369.4 1344.1L369.6 1344.1L371.3 1344.2L373.1 1344.3L374.8 1344.4L376.5 1344.5L378.2 1344.6L380 1344.7L381.7 1344.8L381.9 1344.8L383.4 1345L383.8 1346L384.6 1519L387.4 1519L388 1347L388.4 1347L388.6 1240.4L388.9 1265L388.9 1266.7L388.9 1268.4L388.9 1270.1L389 1271.8L389 1273.5L389 1275.2L389.1 1276.9L389.1 1278.6L389.2 1280.4L389.2 1282.1L389.3 1283.8L389.4 1285.5L389.4 1287.2L389.5 1288.9L389.5 1289L389.6 1290.6L389.6 1292.3L389.7 1294L389.8 1295.7L390 1297.4L390.1 1299.1L390.2 1300.8L390.3 1301.9L390.3 1302.5L390.5 1304.2L390.7 1305.9L390.9 1307.6L391.1 1309.3L391.2 1310.5L391.3 1311L391.5 1312.7L391.7 1314.4L391.9 1316.1L392.2 1317.7L392.5 1319.1L392.6 1319.4L393 1321L393.6 1322.7L394.2 1324.3L394.2 1324.3L394.8 1325.9L395.6 1327.4L396.3 1328.6L396.5 1328.8L397.6 1330L399 1331.2L400.3 1332.1L400.4 1332.1L401.8 1332.9L403.4 1333.7L405 1334.3L406.6 1335L406.8 1335.1L408.2 1335.6L409.7 1336.3L411.3 1336.9L412.9 1337.5L414.6 1338L414.9 1338.1L416.2 1338.5L417.8 1339L419.5 1339.4L421.1 1339.9L422.8 1340.3L424.4 1340.7L424.7 1340.7L426.1 1341L427.8 1341.3L429.5 1341.6L431.2 1341.9L432.8 1342.1L434.5 1342.4L436.2 1342.6L437.7 1342.8L437.9 1342.8L439.6 1343L441.3 1343.3L443 1343.5L444.7 1343.6L446.4 1343.8L448.1 1344L449.8 1344.1L449.8 1344.1L451.5 1344.2L453.2 1344.3L454.9 1344.4L456.6 1344.5L458.3 1344.5L460 1344.7L461.7 1344.8L461.9 1344.8L463.4 1345L463.8 1346L464.6 1519L467.7 1519L468.3 1347L468.7 1347L468.9 1242.9L469.2 1265L469.2 1266.7L469.2 1268.4L469.2 1270.1L469.3 1271.8L469.3 1273.5L469.3 1275.2L469.4 1276.9L469.4 1278.6L469.5 1280.3L469.5 1282L469.6 1283.7L469.7 1285.4L469.7 1287L469.8 1288.7L469.8 1289L469.9 1290.4L469.9 1292.1L470 1293.8L470.1 1295.5L470.2 1297.2L470.4 1298.9L470.5 1300.6L470.6 1301.9L470.6 1302.3L470.8 1304L470.9 1305.7L471.1 1307.4L471.3 1309L471.5 1310.5L471.5 1310.7L471.7 1312.4L472 1314.1L472.2 1315.8L472.5 1317.5L472.8 1319.1L472.8 1319.1L473.2 1320.7L473.8 1322.4L474.4 1324L474.5 1324.3L475 1325.6L475.7 1327.1L476.5 1328.6L476.5 1328.6L477.6 1329.8L478.9 1331L480.3 1332L480.5 1332.1L481.7 1332.8L483.3 1333.6L484.8 1334.2L486.4 1334.9L486.9 1335.1L488 1335.5L489.6 1336.2L491.2 1336.8L492.7 1337.4L494.4 1337.9L494.9 1338.1L496 1338.4L497.6 1338.9L499.2 1339.4L500.9 1339.8L502.5 1340.2L504.2 1340.6L504.6 1340.7L505.8 1340.9L507.5 1341.3L509.2 1341.6L510.8 1341.8L512.5 1342.1L514.2 1342.4L515.9 1342.6L517.4 1342.8L517.6 1342.8L519.2 1343L520.9 1343.2L522.6 1343.4L524.3 1343.6L526 1343.8L527.7 1344L529.4 1344.1L529.4 1344.1L531.1 1344.2L532.7 1344.3L534.4 1344.4L536.1 1344.5L537.8 1344.5L539.5 1344.7L541.2 1344.8L541.4 1344.8L542.9 1345L543.3 1346L544.1 1519L546.9 1519L547.5 1347L547.9 1347L548.1 1246.1L548.4 1265L548.4 1266.7L548.4 1268.4L548.4 1270.1L548.5 1271.8L548.5 1273.5L548.5 1275.2L548.6 1276.9L548.6 1278.6L548.7 1280.3L548.7 1282L548.8 1283.7L548.9 1285.4L548.9 1287.1L549 1288.8L549 1289L549.1 1290.5L549.1 1292.2L549.2 1293.8L549.3 1295.5L549.5 1297.2L549.6 1298.9L549.7 1300.6L549.8 1301.9L549.8 1302.3L550 1304L550.1 1305.7L550.3 1307.4L550.5 1309.1L550.7 1310.5L550.7 1310.8L550.9 1312.4L551.2 1314.1L551.4 1315.8L551.7 1317.5L552 1319.1L552 1319.1L552.4 1320.8L553 1322.4L553.6 1324L553.7 1324.3L554.2 1325.6L554.9 1327.2L555.7 1328.6L555.7 1328.6L556.8 1329.9L558.1 1331L559.6 1332L559.7 1332.1L561 1332.8L562.5 1333.6L564.1 1334.2L565.7 1334.9L566.2 1335.1L567.2 1335.6L568.8 1336.2L570.4 1336.8L572 1337.4L573.6 1337.9L574.2 1338.1L575.2 1338.4L576.9 1338.9L578.5 1339.4L580.1 1339.8L581.8 1340.2L583.4 1340.6L583.8 1340.7L585.1 1341L586.8 1341.3L588.4 1341.6L590.1 1341.8L591.8 1342.1L593.5 1342.4L595.2 1342.6L596.7 1342.8L596.8 1342.8L598.5 1343L600.2 1343.2L601.9 1343.4L603.6 1343.6L605.3 1343.8L607 1344L608.7 1344.1L608.7 1344.1L610.3 1344.2L612 1344.3L613.7 1344.4L615.4 1344.5L617.1 1344.5L618.8 1344.7L620.5 1344.8L620.7 1344.8L622.2 1345L622.6 1346L623.4 1519L626.2 1519L626.8 1347L627.2 1347L627.4 1249.3L627.7 1265L627.7 1266.7L627.7 1268.4L627.7 1270.1L627.8 1271.8L627.8 1273.5L627.8 1275.2L627.9 1276.8L627.9 1278.5L628 1280.2L628 1281.9L628.1 1283.6L628.2 1285.3L628.2 1287L628.3 1288.7L628.3 1289L628.4 1290.4L628.4 1292.1L628.5 1293.7L628.6 1295.4L628.7 1297.1L628.9 1298.8L629 1300.5L629.1 1301.9L629.1 1302.2L629.3 1303.9L629.4 1305.6L629.6 1307.2L629.8 1308.9L630 1310.5L630 1310.6L630.2 1312.3L630.4 1314L630.7 1315.6L631 1317.3L631.3 1319L631.3 1319.1L631.7 1320.6L632.2 1322.2L632.8 1323.8L633 1324.3L633.4 1325.4L634.1 1327L634.9 1328.5L635 1328.6L635.9 1329.7L637.2 1330.9L638.6 1331.9L639 1332.1L640 1332.7L641.5 1333.5L643.1 1334.2L644.7 1334.8L645.3 1335.1L646.3 1335.5L647.8 1336.1L649.4 1336.7L651 1337.3L652.6 1337.9L653.3 1338.1L654.2 1338.4L655.8 1338.9L657.4 1339.4L659.1 1339.8L660.7 1340.2L662.4 1340.6L662.9 1340.7L664 1340.9L665.7 1341.2L667.4 1341.5L669 1341.8L670.7 1342.1L672.4 1342.3L674 1342.6L675.7 1342.8L675.7 1342.8L677.4 1343L679.1 1343.2L680.8 1343.4L682.4 1343.6L684.1 1343.8L685.8 1344L687.5 1344.1L687.6 1344.1L689.2 1344.2L690.9 1344.3L692.6 1344.4L694.3 1344.5L696 1344.5L697.6 1344.7L699.3 1344.8L699.5 1344.8L701 1345L701.4 1346L702.2 1519L705.3 1519L705.9 1347L706.3 1347L706.5 1251L706.8 1265L706.8 1266.7L706.8 1268.4L706.8 1270.1L706.9 1271.8L706.9 1273.4L706.9 1275.1L707 1276.8L707 1278.5L707.1 1280.2L707.1 1281.9L707.2 1283.6L707.3 1285.3L707.3 1286.9L707.4 1288.6L707.4 1289L707.5 1290.3L707.5 1292L707.6 1293.7L707.7 1295.4L707.8 1297.1L708 1298.7L708.1 1300.4L708.2 1301.9L708.2 1302.1L708.4 1303.8L708.5 1305.5L708.7 1307.2L708.9 1308.8L709.1 1310.5L709.1 1310.5L709.3 1312.2L709.5 1313.9L709.8 1315.5L710 1317.2L710.3 1318.9L710.4 1319.1L710.8 1320.5L711.3 1322.1L711.9 1323.7L712.1 1324.3L712.5 1325.3L713.1 1326.9L713.9 1328.4L714.1 1328.6L714.9 1329.6L716.2 1330.8L717.6 1331.8L718 1332.1L719 1332.7L720.5 1333.4L722 1334.1L723.6 1334.8L724.4 1335.1L725.2 1335.4L726.7 1336.1L728.3 1336.7L729.9 1337.3L731.5 1337.8L732.3 1338.1L733.1 1338.4L734.7 1338.9L736.3 1339.3L738 1339.8L739.6 1340.2L741.3 1340.6L741.9 1340.7L742.9 1340.9L744.6 1341.2L746.2 1341.5L747.9 1341.8L749.6 1342.1L751.2 1342.3L752.9 1342.6L754.6 1342.8L754.6 1342.8L756.3 1343L757.9 1343.2L759.6 1343.4L761.3 1343.6L763 1343.8L764.6 1344L766.3 1344.1L766.4 1344.1L768 1344.2L769.7 1344.3L771.4 1344.4L773.1 1344.5L774.8 1344.5L776.4 1344.7L778.1 1344.8L778.3 1344.8L779.8 1345L780.2 1346L781 1519L784.3 1519L784.9 1347L785.3 1347L785.5 1251.7L785.8 1265L785.8 1266.7L785.8 1268.4L785.8 1270.1L785.9 1271.7L785.9 1273.4L785.9 1275.1L786 1276.8L786 1278.5L786.1 1280.2L786.1 1281.9L786.2 1283.5L786.3 1285.2L786.3 1286.9L786.4 1288.6L786.4 1289L786.5 1290.3L786.5 1292L786.6 1293.7L786.7 1295.3L786.8 1297L787 1298.7L787.1 1300.4L787.2 1301.9L787.2 1302.1L787.4 1303.7L787.5 1305.4L787.7 1307.1L787.9 1308.8L788.1 1310.4L788.1 1310.5L788.3 1312.1L788.5 1313.8L788.8 1315.5L789 1317.1L789.3 1318.8L789.4 1319.1L789.7 1320.4L790.3 1322L790.8 1323.6L791.1 1324.3L791.4 1325.2L792.1 1326.8L792.8 1328.3L793 1328.6L793.8 1329.6L795.1 1330.7L796.5 1331.8L797 1332.1L797.9 1332.6L799.4 1333.4L800.9 1334.1L802.5 1334.8L803.3 1335.1L804.1 1335.4L805.6 1336.1L807.2 1336.7L808.8 1337.3L810.4 1337.8L811.2 1338.1L812 1338.3L813.6 1338.8L815.2 1339.3L816.8 1339.8L818.5 1340.2L820.1 1340.6L820.8 1340.7L821.8 1340.9L823.4 1341.2L825.1 1341.5L826.7 1341.8L828.4 1342.1L830.1 1342.3L831.7 1342.6L833.4 1342.8L833.4 1342.8L835.1 1343L836.8 1343.2L838.4 1343.4L840.1 1343.6L841.8 1343.8L843.5 1343.9L845.1 1344.1L845.3 1344.1L846.8 1344.2L848.5 1344.3L850.2 1344.4L851.9 1344.5L853.6 1344.5L855.3 1344.6L856.9 1344.8L857.1 1344.8L858.6 1345L859 1346L859.8 1519L863.1 1519L863.7 1347L864.1 1347L864.3 1252.2L864.6 1265L864.6 1266.7L864.6 1268.4L864.6 1270.1L864.7 1271.8L864.7 1273.5L864.7 1275.2L864.8 1276.9L864.8 1278.6L864.9 1280.3L864.9 1282L865 1283.7L865.1 1285.4L865.1 1287L865.2 1288.7L865.2 1289L865.3 1290.4L865.3 1292.1L865.4 1293.8L865.5 1295.5L865.6 1297.2L865.8 1298.9L865.9 1300.6L866 1301.9L866 1302.3L866.2 1304L866.3 1305.7L866.5 1307.4L866.7 1309L866.9 1310.5L866.9 1310.7L867.1 1312.4L867.4 1314.1L867.6 1315.8L867.9 1317.5L868.2 1319.1L868.2 1319.1L868.6 1320.7L869.2 1322.4L869.8 1324L869.9 1324.3L870.4 1325.6L871.1 1327.1L871.9 1328.6L871.9 1328.6L873 1329.8L874.3 1331L875.7 1332L875.9 1332.1L877.1 1332.8L878.7 1333.6L880.2 1334.2L881.8 1334.9L882.3 1335.1L883.4 1335.5L885 1336.2L886.6 1336.8L888.1 1337.4L889.8 1337.9L890.3 1338.1L891.4 1338.4L893 1338.9L894.6 1339.4L896.3 1339.8L897.9 1340.2L899.6 1340.6L900 1340.7L901.2 1340.9L902.9 1341.3L904.6 1341.6L906.2 1341.8L907.9 1342.1L909.6 1342.4L911.3 1342.6L912.8 1342.8L913 1342.8L914.6 1343L916.3 1343.2L918 1343.4" fill="none" stroke="#0072bd" stroke-width="2.3" stroke-linejoin="round"/>
<path clip-path="url(#cp-b)" d="M1057 126.3L1057 126.3L1057 126.3L1057 126.2L1057.1 126.1L1057.2 125.9L1057.3 125.6L1057.5 125.2L1057.7 124.7L1058 124.1L1058 124L1058.3 123.4L1058.8 122.6L1059 122.3L1059.3 122L1059.3 122L1059.9 121.5L1060 121.5L1060.7 121L1061 120.8L1061.5 120.5L1062 120.3L1062.5 120.1L1062.9 120L1063 120L1063.6 119.9L1063.9 119.8L1064.8 119.7L1064.9 119.6L1065.9 119.5L1066.2 119.4L1066.9 119.3L1067.7 119.2L1067.9 119.2L1068.9 119.1L1069.4 119L1069.9 119L1070.9 118.9L1071.2 118.9L1071.9 118.8L1072.8 118.8L1073.2 118.8L1073.8 118.7L1074.8 118.7L1075 118.7L1075.5 118.7L1075.8 118.7L1076.8 118.7L1077.8 118.7L1077.9 118.7L1078.8 118.6L1079.8 118.6L1080.5 118.6L1080.8 118.6L1081.8 118.6L1082.7 118.6L1083.3 118.6L1083.7 118.6L1084.7 118.6L1085.7 118.6L1086.3 118.6L1086.7 118.6L1087.7 118.5L1088.7 118.5L1089.6 118.5L1089.7 118.5L1090.7 118.5L1091.7 118.5L1092.6 118.5L1093.1 118.5L1093.6 118.5L1094.6 118.5L1095.6 118.5L1096.6 118.5L1096.8 118.5L1097.6 118.5L1098.6 118.5L1099.6 118.5L1100 118.5L1100.6 118.5L1100.8 118.5L1101.6 118.5L1102.5 118.5L1103.5 118.5L1104.5 118.5L1105 118.5L1105.5 118.5L1106.5 118.5L1107.5 118.6L1108.5 118.6L1109.5 118.6L1109.5 118.6L1110.5 118.6L1111.5 118.6L1112.4 118.6L1113.4 118.7L1114.2 118.7L1114.4 118.7L1115.4 118.7L1116.4 118.7L1117.4 118.8L1118.4 118.8L1119.3 118.8L1119.4 118.8L1120.4 118.8L1121.4 118.9L1122.3 118.9L1123.3 119L1124.3 119L1124.6 119L1125.3 119L1126.3 119.1L1127.3 119.1L1128.3 119.1L1129.3 119.2L1130.3 119.2L1130.3 119.2L1131.3 119.3L1132.2 119.3L1133.2 119.4L1134.2 119.4L1135.2 119.5L1136.2 119.5L1135.6 119.8L1136.7 132L1139.5 302L1140.5 397L1142.6 457.6L1143 457.6L1143.4 453L1143.8 448.5L1144.1 443.9L1144.3 440L1144.3 439.4L1144.5 434.8L1144.6 430.2L1144.8 425.7L1144.9 421.1L1145 416.5L1145 412L1145.1 407.4L1145.2 402.8L1145.2 400L1145.2 398.3L1145.3 393.7L1145.3 389.1L1145.3 384.6L1145.4 380L1145.4 375.4L1145.4 370.8L1145.5 366.3L1145.5 361.7L1145.5 357.1L1145.5 352.6L1145.5 348L1145.6 343.4L1145.6 338.9L1145.6 334.3L1145.6 329.7L1145.6 325.1L1145.6 320.6L1145.7 316L1145.7 311.4L1145.7 306.9L1145.7 302.3L1145.8 297.7L1145.8 293.2L1145.8 288.6L1145.9 284L1145.9 280L1145.9 279.5L1146 274.9L1146 270.3L1146.1 265.7L1146.1 261.2L1146.2 256.6L1146.3 252L1146.4 247.5L1146.5 242.9L1146.6 238.3L1146.7 233.8L1146.8 229.2L1146.9 224.6L1147 220.1L1147 218L1147.1 215.5L1147.2 210.9L1147.3 206.4L1147.5 201.8L1147.6 197.2L1147.8 192.7L1148 188.1L1148.1 183.5L1148.3 179L1148.4 174.4L1148.6 169.8L1148.7 166L1148.7 165.3L1148.8 160.7L1148.9 156.1L1149 151.5L1149.1 147L1149.3 142.4L1149.4 140L1149.6 137.9L1150.1 133.3L1150.8 130L1151.1 128.9L1153.3 125L1153.4 124.9L1157.3 122.5L1158.7 122L1161.7 121L1165.8 120L1166.1 119.9L1170.6 119.3L1175.2 118.9L1176.5 118.8L1179.8 118.6L1184.3 118.4L1188.9 118.3L1189.6 118.3L1193.5 118.3L1198 118.4L1202.6 118.5L1207.2 118.7L1211.7 118.8L1213.7 118.9L1216.3 119L1220.9 119.4L1225.4 119.9L1224.5 119.8L1225.6 132L1228.4 302L1229.4 397L1231.5 457.6L1231.9 457.6L1232.3 453.1L1232.7 448.6L1233 444.1L1233.2 440L1233.2 439.5L1233.4 435L1233.5 430.5L1233.6 426L1233.8 421.4L1233.8 416.9L1233.9 412.4L1234 407.8L1234.1 403.3L1234.1 400L1234.1 398.8L1234.2 394.3L1234.2 389.7L1234.2 385.2L1234.3 380.7L1234.3 376.2L1234.3 371.6L1234.3 367.1L1234.4 362.6L1234.4 358L1234.4 353.5L1234.4 349L1234.4 344.5L1234.5 339.9L1234.5 335.4L1234.5 330.9L1234.5 326.3L1234.5 321.8L1234.6 317.3L1234.6 312.8L1234.6 308.2L1234.6 303.7L1234.7 299.2L1234.7 294.6L1234.7 290.1L1234.8 285.6L1234.8 281.1L1234.8 280L1234.8 276.5L1234.9 272L1234.9 267.5L1235 263L1235.1 258.4L1235.2 253.9L1235.2 249.4L1235.3 244.8L1235.4 240.3L1235.5 235.8L1235.6 231.3L1235.7 226.7L1235.8 222.2L1235.9 218L1235.9 217.7L1236 213.2L1236.2 208.6L1236.3 204.1L1236.4 199.6L1236.6 195.1L1236.8 190.5L1236.9 186L1237.1 181.5L1237.2 177L1237.4 172.4L1237.5 167.9L1237.6 166L1237.7 163.4L1237.8 158.8L1237.9 154.3L1238 149.8L1238.1 145.3L1238.3 140.7L1238.3 140L1238.6 136.2L1239.3 131.7L1239.7 130L1240.7 127.3L1242.2 125L1243.4 124L1247.6 122L1247.6 122L1251.9 120.6L1254.7 120L1256.4 119.7L1260.9 119.1L1264.8 118.8L1265.4 118.8L1269.9 118.5L1274.4 118.3L1277 118.3L1279 118.3L1283.5 118.4L1288 118.5L1292.6 118.6L1297.1 118.8L1299.6 118.9L1301.6 119L1306.1 119.4L1310.6 119.9L1309.7 119.8L1310.8 132L1313.6 302L1314.6 397L1316.7 457.6L1317.1 457.6L1317.5 453.1L1317.9 448.6L1318.2 444.1L1318.4 440L1318.4 439.6L1318.6 435.1L1318.7 430.6L1318.9 426.1L1319 421.6L1319.1 417L1319.1 412.5L1319.2 408L1319.3 403.5L1319.3 400L1319.3 399L1319.4 394.5L1319.4 390L1319.4 385.5L1319.5 380.9L1319.5 376.4L1319.5 371.9L1319.6 367.4L1319.6 362.9L1319.6 358.4L1319.6 353.9L1319.6 349.4L1319.7 344.8L1319.7 340.3L1319.7 335.8L1319.7 331.3L1319.7 326.8L1319.8 322.3L1319.8 317.8L1319.8 313.3L1319.8 308.7L1319.8 304.2L1319.9 299.7L1319.9 295.2L1319.9 290.7L1320 286.2L1320 281.7L1320 280L1320 277.2L1320.1 272.6L1320.2 268.1L1320.2 263.6L1320.3 259.1L1320.4 254.6L1320.4 250.1L1320.5 245.6L1320.6 241.1L1320.7 236.6L1320.8 232L1320.9 227.5L1321 223L1321.1 218.5L1321.1 218L1321.2 214L1321.3 209.5L1321.5 205L1321.6 200.5L1321.8 196L1321.9 191.4L1322.1 186.9L1322.3 182.4L1322.4 177.9L1322.6 173.4L1322.7 168.9L1322.8 166L1322.9 164.4L1323 159.9L1323.1 155.4L1323.1 150.8L1323.3 146.3L1323.4 141.8L1323.5 140L1323.7 137.3L1324.3 132.8L1324.9 130L1325.4 128.4L1327.4 125L1327.7 124.7L1331.7 122.4L1332.8 122L1336 120.9L1339.9 120L1340.4 119.9L1344.9 119.3L1349.4 118.8L1349.8 118.8L1353.9 118.6L1358.4 118.4L1361.7 118.3L1362.9 118.3L1367.4 118.4L1371.9 118.5L1376.4 118.6L1381 118.8L1383.7 118.9L1385.5 119L1390 119.4L1394.4 119.9L1393.5 119.8L1394.6 132L1397.4 302L1398.4 397L1400.5 457.6L1400.9 457.6L1401.3 453.1L1401.7 448.6L1402 444.1L1402.2 440L1402.3 439.6L1402.4 435.1L1402.6 430.6L1402.7 426.1L1402.8 421.6L1402.9 417.1L1403 412.6L1403 408.1L1403.1 403.6L1403.1 400L1403.1 399.1L1403.2 394.6L1403.2 390.1L1403.3 385.6L1403.3 381.1L1403.3 376.6L1403.4 372.1L1403.4 367.5L1403.4 363L1403.4 358.5L1403.4 354L1403.5 349.5L1403.5 345L1403.5 340.5L1403.5 336L1403.5 331.5L1403.6 327L1403.6 322.5L1403.6 318L1403.6 313.5L1403.6 309L1403.7 304.5L1403.7 300L1403.7 295.5L1403.7 290.9L1403.8 286.4L1403.8 281.9L1403.8 280L1403.9 277.4L1403.9 272.9L1404 268.4L1404 263.9L1404.1 259.4L1404.2 254.9L1404.3 250.4L1404.3 245.9L1404.4 241.4L1404.5 236.9L1404.6 232.4L1404.7 227.9L1404.8 223.4L1404.9 218.9L1404.9 218L1405 214.4L1405.2 209.9L1405.3 205.4L1405.4 200.8L1405.6 196.3L1405.8 191.8L1405.9 187.3L1406.1 182.8L1406.2 178.3L1406.4 173.8L1406.5 169.3L1406.6 166L1406.7 164.8L1406.8 160.3L1406.9 155.8L1407 151.3L1407.1 146.8L1407.2 142.3L1407.3 140L1407.5 137.8L1408.1 133.3L1408.7 130L1409.1 128.9L1411.2 125L1411.3 125L1415.1 122.6L1416.6 122L1419.3 121.1L1423.7 120L1423.7 120L1428.2 119.3L1432.7 118.9L1433.5 118.8L1437.2 118.6L1441.7 118.4L1445.3 118.3L1446.2 118.3L1450.7 118.3L1455.2 118.4L1459.7 118.6L1464.2 118.8L1467.1 118.9L1468.7 119L1473.2 119.4L1477.7 119.9L1476.8 119.8L1477.9 132L1480.7 302L1481.7 397L1483.8 457.6L1484.2 457.6L1484.6 453.1L1484.9 448.6L1485.3 444.1L1485.5 440L1485.5 439.6L1485.6 435.2L1485.8 430.7L1485.9 426.2L1486 421.7L1486.1 417.2L1486.2 412.7L1486.3 408.2L1486.3 403.7L1486.4 400L1486.4 399.2L1486.4 394.7L1486.5 390.2L1486.5 385.7L1486.5 381.2L1486.6 376.7L1486.6 372.2L1486.6 367.7L1486.6 363.2L1486.7 358.7L1486.7 354.2L1486.7 349.7L1486.7 345.2L1486.7 340.7L1486.7 336.2L1486.8 331.7L1486.8 327.2L1486.8 322.7L1486.8 318.2L1486.8 313.7L1486.9 309.2L1486.9 304.7L1486.9 300.2L1486.9 295.7L1487 291.2L1487 286.7L1487 282.2L1487.1 280L1487.1 277.7L1487.1 273.2L1487.2 268.7L1487.3 264.2L1487.3 259.7L1487.4 255.2L1487.5 250.7L1487.6 246.2L1487.6 241.7L1487.7 237.2L1487.8 232.7L1487.9 228.2L1488 223.7L1488.1 219.2L1488.2 218L1488.2 214.7L1488.4 210.2L1488.5 205.7L1488.7 201.2L1488.8 196.7L1489 192.2L1489.1 187.7L1489.3 183.2L1489.5 178.7L1489.6 174.2L1489.8 169.7L1489.9 166L1489.9 165.2L1490 160.7L1490.1 156.2L1490.2 151.7L1490.3 147.2L1490.4 142.7L1490.6 140L1490.7 138.2L1491.2 133.7L1492 130L1492.2 129.3L1494.2 125.3L1494.5 125L1497.9 122.8L1499.9 122L1502.2 121.2L1506.5 120.1L1507 120L1511 119.4L1515.5 118.9L1516.6 118.8L1520 118.6L1524.5 118.4L1528.3 118.3L1529 118.3L1533.5 118.3L1538 118.4L1542.5 118.6L1546.9 118.8L1549.9 118.9L1551.4 119L1555.9 119.4L1560.4 119.9L1559.5 119.8L1560.6 132L1563.4 302L1564.4 397L1566.5 457.6L1566.9 457.6L1567.3 453.1L1567.7 448.6L1568 444.2L1568.2 440L1568.2 439.7L1568.4 435.2L1568.5 430.7L1568.6 426.2L1568.7 421.7L1568.8 417.2L1568.9 412.7L1569 408.2L1569.1 403.7L1569.1 400L1569.1 399.3L1569.1 394.8L1569.2 390.3L1569.2 385.8L1569.3 381.3L1569.3 376.8L1569.3 372.3L1569.3 367.8L1569.4 363.3L1569.4 358.8L1569.4 354.3L1569.4 349.8L1569.4 345.3L1569.5 340.9L1569.5 336.4L1569.5 331.9L1569.5 327.4L1569.5 322.9L1569.5 318.4L1569.6 313.9L1569.6 309.4L1569.6 304.9L1569.6 300.4L1569.7 295.9L1569.7 291.4L1569.7 286.9L1569.8 282.5L1569.8 280L1569.8 278L1569.9 273.5L1569.9 269L1570 264.5L1570 260L1570.1 255.5L1570.2 251L1570.3 246.5L1570.4 242L1570.5 237.5L1570.6 233L1570.7 228.6L1570.8 224.1L1570.9 219.6L1570.9 218L1571 215.1L1571.1 210.6L1571.2 206.1L1571.4 201.6L1571.5 197.1L1571.7 192.6L1571.8 188.1L1572 183.7L1572.2 179.2L1572.3 174.7L1572.5 170.2L1572.6 166L1572.6 165.7L1572.7 161.2L1572.8 156.7L1572.9 152.2L1573 147.7L1573.2 143.2L1573.3 140L1573.4 138.7L1573.9 134.2L1574.7 130L1574.7 129.9L1576.6 125.7L1577.2 125L1580.1 123.1L1582.6 122L1584.3 121.4L1588.7 120.2L1589.7 120L1593.1 119.5L1597.6 118.9L1599.3 118.8L1602.1 118.6L1606.5 118.4L1610.8 118.3L1611 118.3L1615.5 118.3L1620 118.4L1624.5 118.6L1629 118.8L1632.1 118.9L1633.5 119L1638 119.4L1642.4 119.9L1641.5 119.8L1642.6 132L1645.4 302L1646.4 397L1648.5 457.6L1648.9 457.6L1649.3 453.1L1649.7 448.6L1650 444.2L1650.2 440L1650.2 439.7L1650.4 435.2L1650.5 430.7L1650.7 426.2L1650.8 421.7L1650.9 417.2L1651 412.8L1651 408.3L1651.1 403.8L1651.1 400L1651.1 399.3L1651.2 394.8L1651.2 390.3L1651.3 385.8L1651.3 381.3L1651.3 376.8L1651.3 372.3L1651.4 367.9L1651.4 363.4L1651.4 358.9L1651.4 354.4L1651.5 349.9L1651.5 345.4L1651.5 340.9L1651.5 336.4L1651.5 331.9L1651.5 327.4L1651.6 323L1651.6 318.5L1651.6 314L1651.6 309.5L1651.6 305L1651.7 300.5L1651.7 296L1651.7 291.5L1651.8 287L1651.8 282.5L1651.8 280L1651.8 278.1L1651.9 273.6L1652 269.1L1652 264.6L1652.1 260.1L1652.2 255.6L1652.2 251.1L1652.3 246.6L1652.4 242.1L1652.5 237.6L1652.6 233.2L1652.7 228.7L1652.8 224.2L1652.9 219.7L1652.9 218L1653 215.2L1653.1 210.7L1653.3 206.2L1653.4 201.7L1653.6 197.2L1653.7 192.8L1653.9 188.3L1654 183.8L1654.2 179.3L1654.4 174.8L1654.5 170.3L1654.6 166L1654.6 165.8L1654.7 161.3L1654.8 156.8L1654.9 152.4L1655 147.9L1655.2 143.4L1655.3 140L1655.4 138.9L1655.9 134.4L1656.7 130L1656.7 130L1658.6 125.8L1659.2 125L1661.9 123.1L1664.6 122L1666.2 121.4L1670.6 120.2L1671.7 120L1675 119.5L1679.4 118.9L1681.3 118.8L1683.9 118.6L1688.4 118.4L1692.7 118.3L1692.9 118.3L1697.4 118.3L1701.9 118.4L1706.4 118.6L1710.8 118.8L1713.9 118.9L1715.3 119L1719.8 119.4L1724.3 119.9L1723.4 119.8L1724.5 132L1727.3 302L1728.3 397L1730.4 457.6L1730.8 457.6L1731.2 453.1L1731.5 448.7L1731.9 444.2L1732.1 440L1732.1 439.7L1732.2 435.2L1732.4 430.7L1732.5 426.3L1732.6 421.8L1732.7 417.3L1732.8 412.8L1732.9 408.3L1732.9 403.8L1733 400L1733 399.3L1733 394.8L1733.1 390.4L1733.1 385.9L1733.1 381.4L1733.2 376.9L1733.2 372.4L1733.2 367.9L1733.2 363.4L1733.3 358.9L1733.3 354.5L1733.3 350L1733.3 345.5L1733.3 341L1733.3 336.5L1733.4 332L1733.4 327.5L1733.4 323.1L1733.4 318.6L1733.4 314.1L1733.5 309.6L1733.5 305.1L1733.5 300.6L1733.5 296.1L1733.6 291.6L1733.6 287.2L1733.6 282.7L1733.7 280L1733.7 278.2L1733.7 273.7L1733.8 269.2L1733.8 264.7L1733.9 260.2L1734 255.8L1734.1 251.3L1734.1 246.8L1734.2 242.3L1734.3 237.8L1734.4 233.3L1734.5 228.8L1734.6 224.4L1734.7 219.9L1734.8 218L1734.8 215.4L1735 210.9L1735.1 206.4L1735.2 201.9L1735.4 197.4L1735.5 193L1735.7 188.5L1735.9 184L1736 179.5L1736.2 175L1736.3 170.5L1736.5 166.1L1736.5 166L1736.6 161.6L1736.7 157.1L1736.8 152.6L1736.9 148.1L1737 143.6L1737.2 140L1737.2 139.1L1737.7 134.6L1738.5 130.2L1738.6 130L1740.3 126L1741.1 125L1743.5 123.3L1746.5 122L1747.8 121.5L1752.1 120.3L1753.6 120L1756.5 119.5L1761 119L1763 118.8L1765.5 118.6L1770 118.4L1774.5 118.3L1774.5 118.3L1778.9 118.3L1783.4 118.4L1787.9 118.6L1792.4 118.8L1795.5 118.9L1796.9 119L1801.3 119.4L1805.8 119.9L1804.9 119.8L1806 132L1808.8 302L1809.8 397L1811.9 457.6L1812.3 457.6L1812.7 453L1813.1 448.5L1813.4 443.9L1813.6 440L1813.6 439.4L1813.8 434.8L1813.9 430.3L1814.1 425.7L1814.2 421.1L1814.3 416.6L1814.3 412L1814.4 407.4L1814.5 402.9L1814.5 400L1814.5 398.3L1814.6 393.7L1814.6 389.2L1814.6 384.6L1814.7 380L1814.7 375.5L1814.7 370.9L1814.8 366.3L1814.8 361.8L1814.8 357.2L1814.8 352.6L1814.8 348L1814.9 343.5L1814.9 338.9L1814.9 334.3L1814.9 329.8L1814.9 325.2L1814.9 320.6L1815 316.1L1815 311.5L1815 306.9L1815 302.4L1815.1 297.8L1815.1 293.2L1815.1 288.7L1815.2 284.1L1815.2 280L1815.2 279.5L1815.3 275L1815.3 270.4L1815.4 265.8L1815.4 261.3L1815.5 256.7L1815.6 252.1L1815.7 247.6L1815.8 243L1815.9 238.4L1815.9 233.9L1816 229.3L1816.1 224.7L1816.3 220.2L1816.3 218L1816.4 215.6L1816.5 211L1816.6 206.5L1816.8 201.9L1816.9 197.4L1817.1 192.8L1817.2 188.2L1817.4 183.7L1817.6 179.1L1817.7 174.5L1817.9 170L1818 166L1818 165.4L1818.1 160.8L1818.2 156.3L1818.3 151.7L1818.4 147.1L1818.6 142.6L1818.7 140L1818.8 138L1819.4 133.4L1820.1 130L1820.4 129L1822.6 125L1822.6 125L1826.5 122.6L1828 122L1830.8 121L1835.1 120L1835.3 120L1839.8 119.3L1844.3 118.9L1845.8 118.8L1848.9 118.6L1853.4 118.4L1858 118.3L1858.8 118.3" fill="none" stroke="#1212f0" stroke-width="2.3" stroke-linejoin="round"/>
<path clip-path="url(#cp-b)" d="M1057 110.6L1134.8 110.6L1135.5 112.1L1136.4 136L1136.5 302.2L1137.3 303.5L1138.5 305.7L1139.7 326.8L1142.9 458.1L1143.2 458.1L1143.9 112.1L1144.5 110.6L1223.7 110.6L1224.4 112.1L1225.3 136L1225.4 302.2L1226.2 303.5L1227.4 305.7L1228.6 326.8L1231.8 458.1L1232.1 458.1L1232.8 112.1L1233.4 110.6L1308.9 110.6L1309.6 112.1L1310.5 136L1310.6 302.2L1311.4 303.5L1312.6 305.7L1313.8 326.8L1317 458.1L1317.3 458.1L1318 112.1L1318.6 110.6L1392.7 110.6L1393.4 112.1L1394.3 136L1394.4 302.2L1395.2 303.5L1396.4 305.7L1397.6 326.8L1400.8 458.1L1401.1 458.1L1401.8 112.1L1402.4 110.6L1476 110.6L1476.7 112.1L1477.6 136L1477.7 302.2L1478.5 303.5L1479.7 305.7L1480.9 326.8L1484.1 458.1L1484.4 458.1L1485.1 112.1L1485.7 110.6L1558.7 110.6L1559.4 112.1L1560.3 136L1560.4 302.2L1561.2 303.5L1562.4 305.7L1563.6 326.8L1566.8 458.1L1567.1 458.1L1567.8 112.1L1568.4 110.6L1640.7 110.6L1641.4 112.1L1642.3 136L1642.4 302.2L1643.2 303.5L1644.4 305.7L1645.6 326.8L1648.8 458.1L1649.1 458.1L1649.8 112.1L1650.4 110.6L1722.6 110.6L1723.3 112.1L1724.2 136L1724.3 302.2L1725.1 303.5L1726.3 305.7L1727.5 326.8L1730.7 458.1L1731 458.1L1731.7 112.1L1732.3 110.6L1804.1 110.6L1804.8 112.1L1805.7 136L1805.8 302.2L1806.6 303.5L1807.8 305.7L1809 326.8L1812.2 458.1L1812.5 458.1L1813.2 112.1L1813.8 110.6L1858.7 110.6" fill="none" stroke="#f51a1a" stroke-width="2.3" stroke-linejoin="round"/>
<path clip-path="url(#cp-d)" d="M1061.6 675.6L1061.6 675.6L1061.6 675.6L1061.6 675.6L1061.6 675.6L1061.6 675.5L1061.7 675.4L1061.7 675.4L1061.8 675.2L1061.9 675.1L1062 674.9L1062.1 674.7L1062.2 674.4L1062.4 674.1L1062.6 673.7L1062.6 673.7L1062.8 673.3L1063.1 672.8L1063.4 672.3L1063.6 672.1L1063.8 671.8L1064.1 671.2L1064.6 670.7L1064.6 670.6L1065 670.1L1065.5 669.6L1065.6 669.6L1065.8 669.4L1066.1 669.2L1066.6 668.8L1066.7 668.8L1067.4 668.3L1067.6 668.2L1068.1 667.9L1068.6 667.7L1068.9 667.6L1069.6 667.3L1069.7 667.2L1070.6 667L1070.6 667L1070.6 667L1071.6 666.8L1071.6 666.8L1072.6 666.6L1072.6 666.6L1073.5 666.5L1073.7 666.5L1074.4 666.5L1074.5 666.5L1074.9 666.5L1075.5 666.5L1076.1 666.6L1076.5 666.6L1077.4 666.7L1077.5 666.7L1078.5 666.8L1078.8 666.9L1079.5 667L1079.6 667L1080.3 667.1L1080.5 667.2L1081.5 667.5L1081.9 667.6L1082.5 667.8L1083.5 668.2L1083.5 668.2L1085.2 671.9L1085.5 673.7L1086.2 679.5L1086.7 685.4L1087.1 691.4L1087.4 697.5L1087.7 703.5L1087.7 703.9L1088 709.4L1088.2 715.3L1088.4 721.3L1088.7 727.2L1088.8 733.2L1089 739.1L1089.2 745.1L1089.4 751.1L1089.5 757L1089.7 763L1089.9 768.9L1090 774.9L1090.1 777.8L1090.2 780.8L1090.4 786.8L1090.5 792.7L1090.7 798.7L1090.9 804.6L1091 810.6L1091.2 816.5L1091.4 822.5L1091.5 828.4L1091.7 834.4L1091.8 840.3L1092 846.3L1092.1 851.7L1092.1 852.2L1092.3 858.2L1092.4 864.1L1092.5 870.1L1092.6 876.1L1092.8 882L1092.9 888L1093 893.9L1093.1 899.9L1093.3 905.8L1093.4 911.8L1093.6 917.7L1093.7 923.7L1093.8 925.6L1093.9 929.6L1094.2 935.6L1094.4 941.5L1094.6 947.5L1094.9 953.4L1095.3 959.4L1095.6 965.3L1096 971.3L1096.3 974.8L1096.5 977.2L1097 983.2L1097.8 989.2L1098.8 994.5L1098.9 994.9L1100 997L1101.7 997.3L1102.2 996.5L1102.9 990L1102.9 989.6L1103.1 983.7L1103.2 977.7L1103.3 971.8L1103.4 965.8L1103.5 960L1103.5 959.8L1103.6 953.9L1103.7 947.9L1103.9 942L1104 936L1104.1 930.1L1104.2 924.1L1104.3 918.2L1104.4 913.3L1104.4 912.2L1104.5 906.3L1104.7 900.3L1104.8 894.3L1104.9 888.4L1105 882.4L1105.1 876.5L1105.3 870.5L1105.4 864.6L1105.5 858.6L1105.6 852.7L1105.8 846.7L1105.9 840.8L1106 834.8L1106.2 828.9L1106.2 827L1106.3 822.9L1106.4 817L1106.6 811L1106.7 805.1L1106.8 799.1L1107 793.2L1107.1 787.2L1107.3 781.2L1107.4 775.3L1107.6 769.3L1107.8 763.4L1108 757.4L1108.1 753.2L1108.2 751.5L1108.4 745.5L1108.6 739.6L1108.8 733.6L1109.1 727.7L1109.4 721.7L1109.8 715.8L1110.2 709.8L1110.6 703.9L1110.6 703.9L1111.2 698L1112.1 692.1L1113.1 686.7L1113.2 686.3L1115 680.4L1117.5 675L1118 674.3L1121.4 670.7L1125.4 668.2L1126.6 667.7L1132.3 666L1137.7 665L1138.2 664.9L1144.1 664.2L1150.1 663.6L1156 663.3L1157.4 663.3L1162 663.4L1166 663.8L1167.8 664.5L1167.9 664.5L1169.3 670.3L1169.6 671.9L1170.1 676.2L1170.7 682.2L1171.2 688.1L1171.6 694.1L1171.9 700.1L1172.1 703.9L1172.2 706.1L1172.5 712.1L1172.7 718L1172.9 724L1173.1 730L1173.3 736L1173.5 742L1173.7 747.9L1173.8 753.9L1174 759.9L1174.2 765.9L1174.3 771.9L1174.5 777.8L1174.5 777.9L1174.7 783.8L1174.9 789.8L1175 795.8L1175.2 801.8L1175.4 807.8L1175.5 813.7L1175.7 819.7L1175.8 825.7L1176 831.7L1176.1 837.7L1176.3 843.7L1176.5 849.6L1176.5 851.7L1176.6 855.6L1176.7 861.6L1176.9 867.6L1177 873.6L1177.1 879.5L1177.2 885.5L1177.3 891.5L1177.5 897.5L1177.6 903.5L1177.7 909.5L1177.9 915.4L1178.1 921.4L1178.2 925.6L1178.3 927.4L1178.5 933.4L1178.7 939.4L1179 945.3L1179.2 951.3L1179.5 957.3L1179.9 963.3L1180.3 969.2L1180.7 974.8L1180.7 975.2L1181.2 981.2L1181.9 987.3L1182.9 993.1L1183.2 994.5L1184.4 997L1186.1 997.3L1186.1 997.3L1187.2 991.6L1187.3 990L1187.5 985.5L1187.6 979.5L1187.7 973.5L1187.8 967.5L1187.9 961.5L1187.9 960L1188 955.5L1188.1 949.6L1188.2 943.6L1188.3 937.6L1188.4 931.6L1188.6 925.6L1188.7 919.6L1188.8 913.7L1188.8 913.3L1188.9 907.7L1189 901.7L1189.2 895.7L1189.3 889.7L1189.4 883.7L1189.5 877.8L1189.6 871.8L1189.8 865.8L1189.9 859.8L1190 853.8L1190.1 847.9L1190.3 841.9L1190.4 835.9L1190.5 829.9L1190.6 827L1190.7 823.9L1190.8 817.9L1190.9 812L1191.1 806L1191.2 800L1191.4 794L1191.5 788L1191.6 782L1191.8 776.1L1192 770.1L1192.1 764.1L1192.3 758.1L1192.5 753.2L1192.5 752.1L1192.8 746.2L1193 740.2L1193.2 734.2L1193.5 728.2L1193.8 722.2L1194.1 716.3L1194.5 710.3L1195 704.3L1195 703.9L1195.6 698.4L1196.4 692.4L1197.5 686.7L1197.5 686.6L1199.3 680.7L1201.8 675.3L1202.4 674.3L1205.7 670.8L1209.8 668.2L1210.8 667.8L1216.5 666L1222.1 665L1222.5 664.9L1228.4 664.2L1234.4 663.6L1240.4 663.3L1241.8 663.3L1246.4 663.4L1250.4 663.8L1252.2 664.5L1252.6 664.5L1254 670.3L1254.3 671.9L1254.8 676.2L1255.4 682.2L1255.9 688.1L1256.3 694.1L1256.6 700.1L1256.8 703.9L1256.9 706.1L1257.2 712.1L1257.4 718L1257.6 724L1257.8 730L1258 736L1258.2 742L1258.4 747.9L1258.5 753.9L1258.7 759.9L1258.9 765.9L1259 771.9L1259.2 777.8L1259.2 777.9L1259.4 783.8L1259.6 789.8L1259.7 795.8L1259.9 801.8L1260.1 807.8L1260.2 813.7L1260.4 819.7L1260.5 825.7L1260.7 831.7L1260.8 837.7L1261 843.7L1261.2 849.6L1261.2 851.7L1261.3 855.6L1261.4 861.6L1261.6 867.6L1261.7 873.6L1261.8 879.5L1261.9 885.5L1262 891.5L1262.2 897.5L1262.3 903.5L1262.4 909.5L1262.6 915.4L1262.8 921.4L1262.9 925.6L1263 927.4L1263.2 933.4L1263.4 939.4L1263.7 945.3L1263.9 951.3L1264.2 957.3L1264.6 963.3L1265 969.2L1265.4 974.8L1265.4 975.2L1265.9 981.2L1266.6 987.3L1267.6 993.1L1267.9 994.5L1269.1 997L1270.8 997.3L1270.8 997.3L1271.9 991.6L1272 990L1272.2 985.5L1272.3 979.5L1272.4 973.5L1272.5 967.5L1272.6 961.5L1272.6 960L1272.7 955.5L1272.8 949.6L1272.9 943.6L1273 937.6L1273.1 931.6L1273.3 925.6L1273.4 919.6L1273.5 913.7L1273.5 913.3L1273.6 907.7L1273.7 901.7L1273.9 895.7L1274 889.7L1274.1 883.7L1274.2 877.8L1274.3 871.8L1274.5 865.8L1274.6 859.8L1274.7 853.8L1274.8 847.9L1275 841.9L1275.1 835.9L1275.2 829.9L1275.3 827L1275.4 823.9L1275.5 817.9L1275.6 812L1275.8 806L1275.9 800L1276.1 794L1276.2 788L1276.3 782L1276.5 776.1L1276.7 770.1L1276.8 764.1L1277 758.1L1277.2 753.2L1277.2 752.1L1277.5 746.2L1277.7 740.2L1277.9 734.2L1278.2 728.2L1278.5 722.2L1278.8 716.3L1279.2 710.3L1279.7 704.3L1279.7 703.9L1280.3 698.4L1281.1 692.4L1282.2 686.7L1282.2 686.6L1284 680.7L1286.5 675.3L1287.1 674.3L1290.3 670.8L1294.5 668.2L1295.5 667.8L1301.2 666L1306.8 665L1307.2 664.9L1313.1 664.2L1319.1 663.6L1325.1 663.3L1326.5 663.3L1331.1 663.4L1335.1 663.8L1336.9 664.5L1337 664.5L1338.4 670.3L1338.7 671.9L1339.2 676.2L1339.8 682.2L1340.3 688.1L1340.7 694.1L1341 700.1L1341.2 703.9L1341.3 706.1L1341.6 712.1L1341.8 718L1342 724L1342.2 730L1342.4 736L1342.6 742L1342.8 747.9L1342.9 753.9L1343.1 759.9L1343.3 765.9L1343.4 771.9L1343.6 777.8L1343.6 777.9L1343.8 783.8L1344 789.8L1344.1 795.8L1344.3 801.8L1344.5 807.8L1344.6 813.7L1344.8 819.7L1344.9 825.7L1345.1 831.7L1345.2 837.7L1345.4 843.7L1345.5 849.6L1345.6 851.7L1345.7 855.6L1345.8 861.6L1346 867.6L1346.1 873.6L1346.2 879.5L1346.3 885.5L1346.4 891.5L1346.6 897.5L1346.7 903.5L1346.8 909.5L1347 915.4L1347.2 921.4L1347.3 925.6L1347.4 927.4L1347.6 933.4L1347.8 939.4L1348 945.3L1348.3 951.3L1348.6 957.3L1349 963.3L1349.4 969.2L1349.8 974.8L1349.8 975.2L1350.3 981.2L1351 987.3L1352 993.1L1352.3 994.5L1353.5 997L1355.2 997.3L1355.2 997.3L1356.3 991.6L1356.4 990L1356.6 985.5L1356.7 979.5L1356.8 973.5L1356.9 967.5L1357 961.5L1357 960L1357.1 955.5L1357.2 949.6L1357.3 943.6L1357.4 937.6L1357.5 931.6L1357.7 925.6L1357.8 919.6L1357.9 913.7L1357.9 913.3L1358 907.7L1358.1 901.7L1358.3 895.7L1358.4 889.7L1358.5 883.7L1358.6 877.8L1358.7 871.8L1358.9 865.8L1359 859.8L1359.1 853.8L1359.2 847.9L1359.4 841.9L1359.5 835.9L1359.6 829.9L1359.7 827L1359.8 823.9L1359.9 817.9L1360 812L1360.2 806L1360.3 800L1360.4 794L1360.6 788L1360.7 782L1360.9 776.1L1361.1 770.1L1361.2 764.1L1361.4 758.1L1361.6 753.2L1361.6 752.1L1361.8 746.2L1362.1 740.2L1362.3 734.2L1362.6 728.2L1362.9 722.2L1363.2 716.3L1363.6 710.3L1364.1 704.3L1364.1 703.9L1364.7 698.4L1365.5 692.4L1366.6 686.7L1366.6 686.6L1368.4 680.7L1370.9 675.3L1371.5 674.3L1374.7 670.8L1378.9 668.2L1379.9 667.8L1385.6 666L1391.2 665L1391.6 664.9L1397.5 664.2L1403.5 663.6L1409.5 663.3L1410.9 663.3L1415.5 663.4L1419.5 663.8L1421.3 664.5L1420.5 664.5L1421.9 670.3L1422.2 671.9L1422.7 676.2L1423.3 682.2L1423.8 688.1L1424.2 694.1L1424.5 700.1L1424.7 703.9L1424.8 706.1L1425.1 712.1L1425.3 718L1425.5 724L1425.7 730L1425.9 736L1426.1 742L1426.3 747.9L1426.4 753.9L1426.6 759.9L1426.8 765.9L1426.9 771.9L1427.1 777.8L1427.1 777.9L1427.3 783.8L1427.4 789.8L1427.6 795.8L1427.8 801.8L1428 807.8L1428.1 813.7L1428.3 819.7L1428.4 825.7L1428.6 831.7L1428.7 837.7L1428.9 843.7L1429 849.6L1429.1 851.7L1429.2 855.6L1429.3 861.6L1429.5 867.6L1429.6 873.6L1429.7 879.5L1429.8 885.5L1429.9 891.5L1430.1 897.5L1430.2 903.5L1430.3 909.5L1430.5 915.4L1430.7 921.4L1430.8 925.6L1430.9 927.4L1431.1 933.4L1431.3 939.4L1431.5 945.3L1431.8 951.3L1432.1 957.3L1432.5 963.3L1432.9 969.2L1433.3 974.8L1433.3 975.2L1433.8 981.2L1434.5 987.3L1435.5 993.1L1435.8 994.5L1437 997L1438.7 997.3L1438.7 997.3L1439.8 991.6L1439.9 990L1440.1 985.5L1440.2 979.5L1440.3 973.5L1440.4 967.5L1440.5 961.5L1440.5 960L1440.6 955.5L1440.7 949.6L1440.8 943.6L1440.9 937.6L1441 931.6L1441.2 925.6L1441.3 919.6L1441.4 913.7L1441.4 913.3L1441.5 907.7L1441.6 901.7L1441.7 895.7L1441.9 889.7L1442 883.7L1442.1 877.8L1442.2 871.8L1442.4 865.8L1442.5 859.8L1442.6 853.8L1442.7 847.9L1442.9 841.9L1443 835.9L1443.1 829.9L1443.2 827L1443.3 823.9L1443.4 817.9L1443.5 812L1443.7 806L1443.8 800L1443.9 794L1444.1 788L1444.2 782L1444.4 776.1L1444.6 770.1L1444.7 764.1L1444.9 758.1L1445.1 753.2L1445.1 752.1L1445.3 746.2L1445.6 740.2L1445.8 734.2L1446.1 728.2L1446.4 722.2L1446.7 716.3L1447.1 710.3L1447.6 704.3L1447.6 703.9L1448.2 698.4L1449 692.4L1450.1 686.7L1450.1 686.6L1451.9 680.7L1454.4 675.3L1455 674.3L1458.2 670.8L1462.4 668.2L1463.4 667.8L1469.1 666L1474.7 665L1475.1 664.9L1481 664.2L1487 663.6L1493 663.3L1494.4 663.3L1499 663.4L1503 663.8L1504.8 664.5L1504.8 664.5L1506.2 670.3L1506.5 671.9L1507 676.2L1507.6 682.2L1508.1 688.1L1508.5 694.1L1508.8 700.1L1509 703.9L1509.1 706.1L1509.4 712.1L1509.6 718L1509.8 724L1510 730L1510.2 736L1510.4 742L1510.6 747.9L1510.7 753.9L1510.9 759.9L1511.1 765.9L1511.2 771.9L1511.4 777.8L1511.4 777.9L1511.6 783.8L1511.7 789.8L1511.9 795.8L1512.1 801.8L1512.2 807.8L1512.4 813.7L1512.6 819.7L1512.7 825.7L1512.9 831.7L1513 837.7L1513.2 843.7L1513.3 849.6L1513.4 851.7L1513.5 855.6L1513.6 861.6L1513.8 867.6L1513.9 873.6L1514 879.5L1514.1 885.5L1514.2 891.5L1514.4 897.5L1514.5 903.5L1514.6 909.5L1514.8 915.4L1515 921.4L1515.1 925.6L1515.2 927.4L1515.4 933.4L1515.6 939.4L1515.8 945.3L1516.1 951.3L1516.4 957.3L1516.8 963.3L1517.2 969.2L1517.6 974.8L1517.6 975.2L1518.1 981.2L1518.8 987.3L1519.8 993.1L1520.1 994.5L1521.3 997L1523 997.3L1523 997.3L1524.1 991.6L1524.2 990L1524.4 985.5L1524.5 979.5L1524.6 973.5L1524.7 967.5L1524.8 961.5L1524.8 960L1524.9 955.5L1525 949.6L1525.1 943.6L1525.2 937.6L1525.3 931.6L1525.5 925.6L1525.6 919.6L1525.7 913.7L1525.7 913.3L1525.8 907.7L1525.9 901.7L1526 895.7L1526.2 889.7L1526.3 883.7L1526.4 877.8L1526.5 871.8L1526.7 865.8L1526.8 859.8L1526.9 853.8L1527 847.9L1527.2 841.9L1527.3 835.9L1527.4 829.9L1527.5 827L1527.6 823.9L1527.7 817.9L1527.8 812L1528 806L1528.1 800L1528.2 794L1528.4 788L1528.5 782L1528.7 776.1L1528.9 770.1L1529 764.1L1529.2 758.1L1529.4 753.2L1529.4 752.1L1529.6 746.2L1529.9 740.2L1530.1 734.2L1530.4 728.2L1530.7 722.2L1531 716.3L1531.4 710.3L1531.9 704.3L1531.9 703.9L1532.5 698.4L1533.3 692.4L1534.4 686.7L1534.4 686.6L1536.1 680.7L1538.7 675.3L1539.3 674.3L1542.5 670.8L1546.7 668.2L1547.7 667.8L1553.4 666L1559 665L1559.4 664.9L1565.3 664.2L1571.3 663.6L1577.3 663.3L1578.7 663.3L1583.3 663.4L1587.3 663.8L1589.1 664.5L1589.2 664.5L1590.6 670.3L1590.9 671.9L1591.4 676.2L1592 682.2L1592.5 688.1L1592.9 694.1L1593.2 700.1L1593.4 703.9L1593.5 706.1L1593.8 712.1L1594 718L1594.2 724L1594.4 730L1594.6 736L1594.8 742L1595 747.9L1595.1 753.9L1595.3 759.9L1595.5 765.9L1595.6 771.9L1595.8 777.8L1595.8 777.9L1596 783.8L1596.1 789.8L1596.3 795.8L1596.5 801.8L1596.6 807.8L1596.8 813.7L1597 819.7L1597.1 825.7L1597.3 831.7L1597.4 837.7L1597.6 843.7L1597.7 849.6L1597.8 851.7L1597.9 855.6L1598 861.6L1598.2 867.6L1598.3 873.6L1598.4 879.5L1598.5 885.5L1598.6 891.5L1598.8 897.5L1598.9 903.5L1599 909.5L1599.2 915.4L1599.4 921.4L1599.5 925.6L1599.6 927.4L1599.8 933.4L1600 939.4L1600.2 945.3L1600.5 951.3L1600.8 957.3L1601.2 963.3L1601.6 969.2L1602 974.8L1602 975.2L1602.5 981.2L1603.2 987.3L1604.2 993.1L1604.5 994.5L1605.7 997L1607.4 997.3L1607.4 997.3L1608.5 991.6L1608.6 990L1608.8 985.5L1608.9 979.5L1609 973.5L1609.1 967.5L1609.2 961.5L1609.2 960L1609.3 955.5L1609.4 949.6L1609.5 943.6L1609.6 937.6L1609.7 931.6L1609.9 925.6L1610 919.6L1610.1 913.7L1610.1 913.3L1610.2 907.7L1610.3 901.7L1610.4 895.7L1610.6 889.7L1610.7 883.7L1610.8 877.8L1610.9 871.8L1611.1 865.8L1611.2 859.8L1611.3 853.8L1611.4 847.9L1611.6 841.9L1611.7 835.9L1611.8 829.9L1611.9 827L1612 823.9L1612.1 817.9L1612.2 812L1612.4 806L1612.5 800L1612.6 794L1612.8 788L1612.9 782L1613.1 776.1L1613.3 770.1L1613.4 764.1L1613.6 758.1L1613.8 753.2L1613.8 752.1L1614 746.2L1614.3 740.2L1614.5 734.2L1614.8 728.2L1615.1 722.2L1615.4 716.3L1615.8 710.3L1616.3 704.3L1616.3 703.9L1616.9 698.4L1617.7 692.4L1618.8 686.7L1618.8 686.6L1620.5 680.7L1623.1 675.3L1623.7 674.3L1626.9 670.8L1631.1 668.2L1632.1 667.8L1637.8 666L1643.4 665L1643.8 664.9L1649.7 664.2L1655.7 663.6L1661.7 663.3L1663.1 663.3L1667.7 663.4L1671.7 663.8L1673.5 664.5L1673.4 664.5L1674.8 670.3L1675.1 671.9L1675.6 676.2L1676.2 682.2L1676.7 688.1L1677.1 694.1L1677.4 700.1L1677.6 703.9L1677.7 706.1L1678 712.1L1678.2 718L1678.4 724L1678.6 730L1678.8 736L1679 742L1679.2 747.9L1679.3 753.9L1679.5 759.9L1679.7 765.9L1679.8 771.9L1680 777.8L1680 777.9L1680.2 783.8L1680.3 789.8L1680.5 795.8L1680.7 801.8L1680.8 807.8L1681 813.7L1681.2 819.7L1681.3 825.7L1681.5 831.7L1681.6 837.7L1681.8 843.7L1681.9 849.6L1682 851.7L1682.1 855.6L1682.2 861.6L1682.4 867.6L1682.5 873.6L1682.6 879.5L1682.7 885.5L1682.8 891.5L1683 897.5L1683.1 903.5L1683.2 909.5L1683.4 915.4L1683.6 921.4L1683.7 925.6L1683.8 927.4L1684 933.4L1684.2 939.4L1684.4 945.3L1684.7 951.3L1685 957.3L1685.4 963.3L1685.8 969.2L1686.2 974.8L1686.2 975.2L1686.7 981.2L1687.4 987.3L1688.4 993.1L1688.7 994.5L1689.9 997L1691.6 997.3L1691.6 997.3L1692.7 991.6L1692.8 990L1693 985.5L1693.1 979.5L1693.2 973.5L1693.3 967.5L1693.4 961.5L1693.4 960L1693.5 955.5L1693.6 949.6L1693.7 943.6L1693.8 937.6L1693.9 931.6L1694.1 925.6L1694.2 919.6L1694.3 913.7L1694.3 913.3L1694.4 907.7L1694.5 901.7L1694.6 895.7L1694.8 889.7L1694.9 883.7L1695 877.8L1695.1 871.8L1695.2 865.8L1695.4 859.8L1695.5 853.8L1695.6 847.9L1695.8 841.9L1695.9 835.9L1696 829.9L1696.1 827L1696.2 823.9L1696.3 817.9L1696.4 812L1696.6 806L1696.7 800L1696.8 794L1697 788L1697.1 782L1697.3 776.1L1697.5 770.1L1697.6 764.1L1697.8 758.1L1698 753.2L1698 752.1L1698.2 746.2L1698.5 740.2L1698.7 734.2L1699 728.2L1699.3 722.2L1699.6 716.3L1700 710.3L1700.5 704.3L1700.5 703.9L1701 698.4L1701.9 692.4L1703 686.7L1703 686.6L1704.7 680.7L1707.3 675.3L1707.9 674.3L1711.1 670.8L1715.3 668.2L1716.3 667.8L1722 666L1727.6 665L1728 664.9L1733.9 664.2L1739.9 663.6L1745.9 663.3L1747.3 663.3L1751.9 663.4L1755.9 663.8L1757.7 664.5L1757.4 664.5L1758.8 670.3L1759.1 671.9L1759.6 676.2L1760.2 682.2L1760.7 688.1L1761.1 694.1L1761.4 700.1L1761.6 703.9L1761.7 706.1L1762 712.1L1762.2 718L1762.4 724L1762.6 730L1762.8 736L1763 742L1763.2 747.9L1763.3 753.9L1763.5 759.9L1763.7 765.9L1763.8 771.9L1764 777.8L1764 777.9L1764.2 783.8L1764.3 789.8L1764.5 795.8L1764.7 801.8L1764.8 807.8L1765 813.7L1765.2 819.7L1765.3 825.7L1765.5 831.7L1765.6 837.7L1765.8 843.7L1765.9 849.6L1766 851.7L1766.1 855.6L1766.2 861.6L1766.3 867.6L1766.5 873.6L1766.6 879.5L1766.7 885.5L1766.8 891.5L1767 897.5L1767.1 903.5L1767.2 909.5L1767.4 915.4L1767.6 921.4L1767.7 925.6L1767.7 927.4L1768 933.4L1768.2 939.4L1768.4 945.3L1768.7 951.3L1769 957.3L1769.4 963.3L1769.8 969.2L1770.2 974.8L1770.2 975.2L1770.7 981.2L1771.4 987.3L1772.4 993.1L1772.7 994.5L1773.9 997L1775.6 997.3L1775.6 997.3L1776.7 991.6L1776.8 990L1777 985.5L1777.1 979.5L1777.2 973.5L1777.3 967.5L1777.4 961.5L1777.4 960L1777.5 955.5L1777.6 949.6L1777.7 943.6L1777.8 937.6L1777.9 931.6L1778 925.6L1778.2 919.6L1778.3 913.7L1778.3 913.3L1778.4 907.7L1778.5 901.7L1778.6 895.7L1778.8 889.7L1778.9 883.7L1779 877.8L1779.1 871.8L1779.2 865.8L1779.4 859.8L1779.5 853.8L1779.6 847.9L1779.8 841.9L1779.9 835.9L1780 829.9L1780.1 827L1780.2 823.9L1780.3 817.9L1780.4 812L1780.6 806L1780.7 800L1780.8 794L1781 788L1781.1 782L1781.3 776.1L1781.5 770.1L1781.6 764.1L1781.8 758.1L1782 753.2L1782 752.1L1782.2 746.2L1782.5 740.2L1782.7 734.2L1783 728.2L1783.3 722.2L1783.6 716.3L1784 710.3L1784.5 704.3L1784.5 703.9L1785 698.4L1785.9 692.4L1787 686.7L1787 686.6L1788.7 680.7L1791.3 675.3L1791.9 674.3L1795.1 670.8L1799.3 668.2L1800.3 667.8L1806 666L1811.6 665L1812 664.9L1817.9 664.2L1823.9 663.6L1829.9 663.3L1831.3 663.3L1835.9 663.4L1839.9 663.8L1841.7 664.5L1841.1 664.5L1842.5 670.3L1842.8 671.9L1843.3 676.2L1843.9 682.2L1844.4 688.1L1844.8 694.1L1845.1 700.1L1845.3 703.9L1845.4 706.1L1845.7 712.1L1845.9 718L1846.1 724L1846.3 730L1846.5 736L1846.7 742L1846.9 747.9L1847 753.9L1847.2 759.9L1847.4 765.9L1847.5 771.9L1847.7 777.8L1847.7 777.9L1847.9 783.8L1848 789.8L1848.2 795.8L1848.4 801.8L1848.5 807.8L1848.7 813.7L1848.9 819.7L1849 825.7L1849.2 831.7L1849.3 837.7L1849.5 843.7L1849.6 849.6L1849.7 851.7L1849.8 855.6L1849.9 861.6L1850 867.6L1850.2 873.6L1850.3 879.5L1850.4 885.5L1850.5 891.5L1850.7 897.5L1850.8 903.5L1850.9 909.5L1851.1 915.4L1851.3 921.4L1851.4 925.6L1851.4 927.4L1851.7 933.4L1851.9 939.4L1852.1 945.3L1852.4 951.3L1852.7 957.3L1853.1 963.3L1853.5 969.2L1853.9 974.8L1853.9 975.2L1854.4 981.2L1855.1 987.3L1856.1 993.1L1856.4 994.5L1857.6 997L1859.3 997.3L1859.3 997.3L1860.4 991.6L1860.5 990L1860.7 985.5L1860.8 979.5L1860.9 973.5L1861 967.5L1861.1 961.5L1861.1 960L1861.2 955.5" fill="none" stroke="#1212f0" stroke-width="2.3" stroke-linejoin="round"/>
<path clip-path="url(#cp-d)" d="M1061.6 659.6L1082.8 659.6L1083.4 662.1L1083.6 780L1083.9 785.8L1084 787.6L1084.7 791.7L1085.2 793.8L1086.7 797L1089.9 802L1090.1 802.4L1092.5 807.3L1094.8 812.6L1095.1 813.5L1096.7 818.2L1098.2 823.8L1098.8 827L1099.2 829.6L1099.8 835.4L1100.3 841.2L1100.5 844.3L1100.6 847.1L1100.9 852.9L1101.1 858.7L1101.3 864.6L1101.4 870.4L1101.5 876.3L1101.5 876.3L1101.6 882.1L1101.6 888L1101.6 893.8L1101.7 899.7L1101.7 905.5L1101.7 911.4L1101.8 917.2L1101.8 923L1101.8 928.9L1101.9 934.7L1101.9 940.6L1101.9 946.4L1101.9 952.3L1101.9 958.1L1102 964L1102 969.8L1102 975.7L1102 981.5L1102 987.4L1102 993.2L1102 999.1L1102 1004.9L1102.5 1004.9L1103 662.1L1103.7 659.6L1167.2 659.6L1167.8 662.1L1168 780L1168.3 785.8L1168.4 787.6L1169.1 791.7L1169.6 793.8L1171.1 797L1174.3 802L1174.5 802.4L1176.9 807.3L1179.2 812.6L1179.5 813.5L1181.1 818.2L1182.6 823.8L1183.2 827L1183.6 829.6L1184.2 835.4L1184.7 841.2L1184.9 844.3L1185 847.1L1185.3 852.9L1185.5 858.7L1185.7 864.6L1185.8 870.4L1185.9 876.3L1185.9 876.3L1185.9 882.1L1186 888L1186 893.8L1186.1 899.7L1186.1 905.5L1186.1 911.4L1186.2 917.2L1186.2 923L1186.2 928.9L1186.3 934.7L1186.3 940.6L1186.3 946.4L1186.3 952.3L1186.3 958.1L1186.4 964L1186.4 969.8L1186.4 975.7L1186.4 981.5L1186.4 987.4L1186.4 993.2L1186.4 999.1L1186.4 1004.9L1186.9 1004.9L1187.4 662.1L1188.1 659.6L1251.9 659.6L1252.5 662.1L1252.7 780L1253 785.8L1253.1 787.6L1253.8 791.7L1254.3 793.8L1255.8 797L1259 802L1259.2 802.4L1261.6 807.3L1263.9 812.6L1264.2 813.5L1265.8 818.2L1267.3 823.8L1267.9 827L1268.3 829.6L1268.9 835.4L1269.4 841.2L1269.6 844.3L1269.7 847.1L1270 852.9L1270.2 858.7L1270.4 864.6L1270.5 870.4L1270.6 876.3L1270.6 876.3L1270.6 882.1L1270.7 888L1270.7 893.8L1270.8 899.7L1270.8 905.5L1270.8 911.4L1270.9 917.2L1270.9 923L1270.9 928.9L1271 934.7L1271 940.6L1271 946.4L1271 952.3L1271 958.1L1271.1 964L1271.1 969.8L1271.1 975.7L1271.1 981.5L1271.1 987.4L1271.1 993.2L1271.1 999.1L1271.1 1004.9L1271.6 1004.9L1272.1 662.1L1272.8 659.6L1336.3 659.6L1336.9 662.1L1337.1 780L1337.4 785.8L1337.5 787.6L1338.2 791.7L1338.7 793.8L1340.2 797L1343.4 802L1343.6 802.4L1346 807.3L1348.3 812.6L1348.6 813.5L1350.2 818.2L1351.7 823.8L1352.3 827L1352.7 829.6L1353.3 835.4L1353.8 841.2L1354 844.3L1354.1 847.1L1354.4 852.9L1354.6 858.7L1354.8 864.6L1354.9 870.4L1355 876.3L1355 876.3L1355 882.1L1355.1 888L1355.1 893.8L1355.2 899.7L1355.2 905.5L1355.2 911.4L1355.3 917.2L1355.3 923L1355.3 928.9L1355.4 934.7L1355.4 940.6L1355.4 946.4L1355.4 952.3L1355.4 958.1L1355.5 964L1355.5 969.8L1355.5 975.7L1355.5 981.5L1355.5 987.4L1355.5 993.2L1355.5 999.1L1355.5 1004.9L1356 1004.9L1356.5 662.1L1357.2 659.6L1419.8 659.6L1420.4 662.1L1420.6 780L1420.9 785.8L1421 787.6L1421.6 791.7L1422.2 793.8L1423.7 797L1426.9 802L1427.1 802.4L1429.5 807.3L1431.8 812.6L1432.1 813.5L1433.7 818.2L1435.2 823.8L1435.8 827L1436.2 829.6L1436.8 835.4L1437.3 841.2L1437.5 844.3L1437.6 847.1L1437.9 852.9L1438.1 858.7L1438.3 864.6L1438.4 870.4L1438.5 876.3L1438.5 876.3L1438.5 882.1L1438.6 888L1438.6 893.8L1438.7 899.7L1438.7 905.5L1438.7 911.4L1438.8 917.2L1438.8 923L1438.8 928.9L1438.9 934.7L1438.9 940.6L1438.9 946.4L1438.9 952.3L1438.9 958.1L1439 964L1439 969.8L1439 975.7L1439 981.5L1439 987.4L1439 993.2L1439 999.1L1439 1004.9L1439.5 1004.9L1440 662.1L1440.7 659.6L1504.1 659.6L1504.7 662.1L1504.9 780L1505.2 785.8L1505.3 787.6L1505.9 791.7L1506.5 793.8L1508 797L1511.2 802L1511.4 802.4L1513.8 807.3L1516.1 812.6L1516.4 813.5L1518 818.2L1519.5 823.8L1520.1 827L1520.5 829.6L1521.1 835.4L1521.6 841.2L1521.8 844.3L1521.9 847.1L1522.2 852.9L1522.4 858.7L1522.6 864.6L1522.7 870.4L1522.8 876.3L1522.8 876.3L1522.8 882.1L1522.9 888L1522.9 893.8L1523 899.7L1523 905.5L1523 911.4L1523.1 917.2L1523.1 923L1523.1 928.9L1523.2 934.7L1523.2 940.6L1523.2 946.4L1523.2 952.3L1523.2 958.1L1523.2 964L1523.3 969.8L1523.3 975.7L1523.3 981.5L1523.3 987.4L1523.3 993.2L1523.3 999.1L1523.3 1004.9L1523.8 1004.9L1524.3 662.1L1525 659.6L1588.5 659.6L1589.1 662.1L1589.3 780L1589.6 785.8L1589.7 787.6L1590.3 791.7L1590.9 793.8L1592.4 797L1595.6 802L1595.8 802.4L1598.2 807.3L1600.5 812.6L1600.8 813.5L1602.4 818.2L1603.9 823.8L1604.5 827L1604.9 829.6L1605.5 835.4L1606 841.2L1606.2 844.3L1606.3 847.1L1606.6 852.9L1606.8 858.7L1607 864.6L1607.1 870.4L1607.2 876.3L1607.2 876.3L1607.2 882.1L1607.3 888L1607.3 893.8L1607.4 899.7L1607.4 905.5L1607.4 911.4L1607.5 917.2L1607.5 923L1607.5 928.9L1607.6 934.7L1607.6 940.6L1607.6 946.4L1607.6 952.3L1607.6 958.1L1607.6 964L1607.7 969.8L1607.7 975.7L1607.7 981.5L1607.7 987.4L1607.7 993.2L1607.7 999.1L1607.7 1004.9L1608.2 1004.9L1608.7 662.1L1609.4 659.6L1672.7 659.6L1673.3 662.1L1673.5 780L1673.8 785.8L1673.9 787.6L1674.5 791.7L1675.1 793.8L1676.6 797L1679.8 802L1680 802.4L1682.4 807.3L1684.7 812.6L1685 813.5L1686.6 818.2L1688.1 823.8L1688.7 827L1689.1 829.6L1689.7 835.4L1690.2 841.2L1690.4 844.3L1690.5 847.1L1690.8 852.9L1691 858.7L1691.2 864.6L1691.3 870.4L1691.4 876.3L1691.4 876.3L1691.4 882.1L1691.5 888L1691.5 893.8L1691.6 899.7L1691.6 905.5L1691.6 911.4L1691.7 917.2L1691.7 923L1691.7 928.9L1691.8 934.7L1691.8 940.6L1691.8 946.4L1691.8 952.3L1691.8 958.1L1691.8 964L1691.9 969.8L1691.9 975.7L1691.9 981.5L1691.9 987.4L1691.9 993.2L1691.9 999.1L1691.9 1004.9L1692.4 1004.9L1692.9 662.1L1693.6 659.6L1756.7 659.6L1757.3 662.1L1757.5 780L1757.7 785.8L1757.9 787.6L1758.5 791.7L1759.1 793.8L1760.6 797L1763.8 802L1764 802.4L1766.4 807.3L1768.7 812.6L1769 813.5L1770.5 818.2L1772.1 823.8L1772.7 827L1773.1 829.6L1773.7 835.4L1774.2 841.2L1774.4 844.3L1774.5 847.1L1774.8 852.9L1775 858.7L1775.2 864.6L1775.3 870.4L1775.4 876.3L1775.4 876.3L1775.4 882.1L1775.5 888L1775.5 893.8L1775.6 899.7L1775.6 905.5L1775.6 911.4L1775.7 917.2L1775.7 923L1775.7 928.9L1775.7 934.7L1775.8 940.6L1775.8 946.4L1775.8 952.3L1775.8 958.1L1775.8 964L1775.9 969.8L1775.9 975.7L1775.9 981.5L1775.9 987.4L1775.9 993.2L1775.9 999.1L1775.9 1004.9L1776.4 1004.9L1776.9 662.1L1777.6 659.6L1840.4 659.6L1841 662.1L1841.2 780L1841.4 785.8L1841.6 787.6L1842.2 791.7L1842.8 793.8L1844.3 797L1847.5 802L1847.7 802.4L1850.1 807.3L1852.4 812.6L1852.7 813.5L1854.2 818.2L1855.8 823.8L1856.4 827L1856.7 829.6L1857.4 835.4L1857.9 841.2L1858.1 844.3L1858.2 847.1L1858.5 852.9L1858.7 858.7L1858.9 864.6L1859 870.4L1859.1 876.3L1859.1 876.3L1859.1 882.1L1859.2 888L1859.2 893.8L1859.3 899.7L1859.3 905.5L1859.3 911.4L1859.4 917.2L1859.4 923L1859.4 928.9L1859.4 934.7L1859.5 940.6L1859.5 946.4L1859.5 952.3L1859.5 958.1L1859.5 964L1859.6 969.8L1859.6 975.7L1859.6 981.5L1859.6 987.4L1859.6 993.2L1859.6 999.1L1859.6 1004.9L1860.1 1004.9L1860.4 893.5" fill="none" stroke="#f51a1a" stroke-width="2.3" stroke-linejoin="round"/>
<path clip-path="url(#cp-f)" d="M1067.9 1201.7L1067.9 1201.7L1067.9 1201.7L1067.9 1201.5L1068 1201.3L1068.1 1201L1068.3 1200.5L1068.5 1199.8L1068.8 1198.9L1068.9 1198.6L1069.2 1197.9L1069.6 1197L1069.6 1197L1069.9 1196.5L1070.2 1196.1L1070.9 1195.2L1070.9 1195.1L1071.7 1194.4L1071.9 1194.3L1071.9 1194.3L1072.6 1194L1072.9 1193.8L1073.7 1193.5L1073.9 1193.5L1074.9 1193.1L1074.9 1193.1L1075.9 1192.9L1076.3 1192.8L1076.9 1192.7L1077.9 1192.6L1077.9 1192.6L1078.1 1192.6L1078.9 1192.6L1079.7 1192.5L1079.9 1192.5L1080.9 1192.5L1081.6 1192.5L1081.9 1192.5L1082.9 1192.4L1083.8 1192.4L1083.9 1192.4L1084.9 1192.4L1085.9 1192.4L1086.2 1192.3L1086.9 1192.3L1087.9 1192.3L1088.8 1192.3L1088.9 1192.3L1089.9 1192.3L1090.9 1192.3L1091.7 1192.3L1091.9 1192.2L1092.9 1192.2L1093.9 1192.2L1094.7 1192.2L1094.9 1192.2L1095.9 1192.2L1096.9 1192.2L1097.9 1192.2L1098.1 1192.2L1098.9 1192.2L1099.9 1192.2L1100.1 1192.2L1100.9 1192.2L1101.7 1192.2L1101.9 1192.2L1102.9 1192.2L1103.9 1192.2L1104.9 1192.2L1105.6 1192.2L1105.9 1192.2L1106.9 1192.2L1107.9 1192.2L1108.9 1192.2L1109.8 1192.2L1109.9 1192.2L1110.9 1192.2L1111.9 1192.2L1112.9 1192.2L1113.9 1192.2L1114.3 1192.2L1114.9 1192.2L1115.9 1192.2L1116.9 1192.2L1117.9 1192.2L1118.9 1192.2L1119.1 1192.2L1119.9 1192.2L1120.9 1192.2L1121.9 1192.2L1122.9 1192.2L1123.9 1192.2L1124.2 1192.2L1124.9 1192.2L1125.9 1192.2L1126.9 1192.2L1127.9 1192.2L1128.9 1192.2L1129.6 1192.2L1129.8 1192.2L1130.8 1192.2L1131.8 1192.2L1132.8 1192.2L1133.8 1192.2L1134.8 1192.2L1135.4 1192.2L1135.8 1192.2L1136.8 1192.2L1137.8 1192.2L1138.8 1192.2L1139.8 1192.2L1140.8 1192.2L1141.6 1192.2L1141.8 1192.2L1142.8 1192.2L1143.8 1192.2L1144.8 1192.3L1145.8 1192.3L1146.8 1192.3L1147.8 1192.3L1148.1 1192.3L1148.8 1192.3L1149.8 1192.3L1150.8 1192.3L1151.8 1192.3L1152.8 1192.3L1153.8 1192.3L1154.8 1192.3L1154.9 1192.3L1155.8 1192.3L1156.8 1192.3L1157.8 1192.3L1158.8 1192.3L1159.8 1192.3L1160.8 1192.3L1161.8 1192.3L1162.2 1192.3L1162.8 1192.3L1163.8 1192.4L1164.8 1192.4L1165.8 1192.4L1166.8 1192.4L1167.8 1192.4L1168.8 1192.4L1169.8 1192.4L1170 1193.3L1170.3 1200L1172.3 1412.2L1173.7 1518.7L1174 1518.7L1174.1 1514.3L1174.1 1510L1174.1 1505.6L1174.2 1501.2L1174.2 1496.8L1174.3 1492.5L1174.3 1488.1L1174.3 1483.7L1174.4 1479.4L1174.4 1475L1174.5 1470.6L1174.5 1466.2L1174.6 1461.9L1174.6 1457.5L1174.7 1453.1L1174.7 1448.8L1174.8 1444.4L1174.8 1440L1174.8 1440L1174.9 1435.6L1174.9 1431.3L1175 1426.9L1175 1422.5L1175.1 1418.2L1175.1 1413.8L1175.2 1409.4L1175.3 1405.1L1175.3 1400.7L1175.4 1396.3L1175.5 1391.9L1175.5 1387.6L1175.6 1383.2L1175.6 1380L1175.6 1378.8L1175.7 1374.5L1175.8 1370.1L1175.8 1365.7L1175.9 1361.3L1176 1357L1176 1352.6L1176.1 1348.2L1176.2 1343.9L1176.2 1339.5L1176.3 1335.1L1176.4 1330.7L1176.4 1326.4L1176.5 1322L1176.5 1317.6L1176.6 1313.3L1176.6 1310L1176.6 1308.9L1176.7 1304.5L1176.7 1300.2L1176.7 1295.8L1176.8 1291.4L1176.8 1287L1176.8 1282.7L1176.9 1278.3L1176.9 1273.9L1176.9 1269.6L1177 1265.2L1177 1260.8L1177 1260L1177.1 1256.4L1177.1 1252.1L1177.2 1247.7L1177.3 1243.3L1177.4 1239L1177.5 1234.6L1177.6 1230.3L1177.6 1230.2L1177.8 1225.8L1177.9 1221.5L1178.1 1217.1L1178.4 1213.1L1178.4 1212.8L1179 1208.4L1179.9 1204.1L1180 1203.6L1181.5 1199.9L1182.6 1198.4L1184.5 1197.1L1187.8 1195.9L1188.8 1195.7L1193 1194.8L1197.4 1194.2L1198.1 1194.1L1201.7 1193.8L1206.1 1193.4L1210.5 1193.2L1214.8 1193.1L1215.3 1193.1L1219.2 1193.1L1223.6 1193.2L1228 1193.3L1232.3 1193.4L1234.8 1193.4L1236.7 1193.4L1241.1 1193.5L1245.4 1193.5L1249.8 1193.5L1250.7 1193.3L1251 1200L1253 1412.2L1254.4 1518.7L1254.7 1518.7L1254.7 1514.3L1254.8 1510L1254.8 1505.6L1254.8 1501.2L1254.9 1496.8L1254.9 1492.5L1255 1488.1L1255 1483.7L1255 1479.4L1255.1 1475L1255.1 1470.6L1255.2 1466.2L1255.2 1461.9L1255.3 1457.5L1255.3 1453.1L1255.4 1448.8L1255.4 1444.4L1255.5 1440L1255.5 1440L1255.5 1435.6L1255.6 1431.3L1255.6 1426.9L1255.7 1422.5L1255.8 1418.2L1255.8 1413.8L1255.9 1409.4L1255.9 1405.1L1256 1400.7L1256.1 1396.3L1256.1 1391.9L1256.2 1387.6L1256.2 1383.2L1256.3 1380L1256.3 1378.8L1256.4 1374.5L1256.4 1370.1L1256.5 1365.7L1256.6 1361.3L1256.6 1357L1256.7 1352.6L1256.8 1348.2L1256.8 1343.9L1256.9 1339.5L1257 1335.1L1257 1330.7L1257.1 1326.4L1257.1 1322L1257.2 1317.6L1257.2 1313.3L1257.3 1310L1257.3 1308.9L1257.3 1304.5L1257.4 1300.2L1257.4 1295.8L1257.4 1291.4L1257.5 1287L1257.5 1282.7L1257.5 1278.3L1257.5 1273.9L1257.6 1269.6L1257.6 1265.2L1257.7 1260.8L1257.7 1260L1257.7 1256.4L1257.8 1252.1L1257.9 1247.7L1258 1243.3L1258 1239L1258.2 1234.6L1258.3 1230.3L1258.3 1230.2L1258.4 1225.8L1258.6 1221.5L1258.8 1217.1L1259.1 1213.1L1259.1 1212.8L1259.7 1208.4L1260.5 1204.1L1260.7 1203.6L1262.2 1199.9L1263.3 1198.4L1265.2 1197.1L1268.5 1195.9L1269.4 1195.7L1273.7 1194.8L1278.1 1194.2L1278.8 1194.1L1282.4 1193.8L1286.8 1193.4L1291.1 1193.2L1295.5 1193.1L1296 1193.1L1299.9 1193.1L1304.2 1193.2L1308.6 1193.3L1313 1193.4L1315.5 1193.4L1317.4 1193.4L1321.7 1193.5L1326.1 1193.5L1328.7 1193.3L1329 1200L1331 1413L1332.4 1518.7L1332.7 1518.7L1332.7 1514.3L1332.8 1510L1332.8 1505.6L1332.8 1501.2L1332.9 1496.8L1332.9 1492.5L1333 1488.1L1333 1483.7L1333 1479.4L1333.1 1475L1333.1 1470.6L1333.2 1466.2L1333.2 1461.9L1333.3 1457.5L1333.3 1453.1L1333.4 1448.8L1333.4 1444.4L1333.5 1440L1333.5 1440L1333.5 1435.6L1333.6 1431.3L1333.6 1426.9L1333.7 1422.5L1333.8 1418.2L1333.8 1413.8L1333.9 1409.4L1333.9 1405.1L1334 1400.7L1334.1 1396.3L1334.1 1391.9L1334.2 1387.6L1334.2 1383.2L1334.3 1380L1334.3 1378.8L1334.4 1374.5L1334.4 1370.1L1334.5 1365.7L1334.6 1361.3L1334.6 1357L1334.7 1352.6L1334.8 1348.2L1334.8 1343.9L1334.9 1339.5L1335 1335.1L1335 1330.7L1335.1 1326.4L1335.1 1322L1335.2 1317.6L1335.2 1313.3L1335.3 1310L1335.3 1308.9L1335.3 1304.5L1335.4 1300.2L1335.4 1295.8L1335.4 1291.4L1335.5 1287L1335.5 1282.7L1335.5 1278.3L1335.5 1273.9L1335.6 1269.6L1335.6 1265.2L1335.7 1260.8L1335.7 1260L1335.7 1256.4L1335.8 1252.1L1335.9 1247.7L1336 1243.3L1336 1239L1336.2 1234.6L1336.3 1230.3L1336.3 1230.2L1336.4 1225.8L1336.6 1221.5L1336.8 1217.1L1337.1 1213.1L1337.1 1212.8L1337.7 1208.4L1338.5 1204.1L1338.7 1203.6L1340.2 1199.9L1341.3 1198.4L1343.2 1197.1L1346.5 1195.9L1347.4 1195.7L1351.7 1194.8L1356.1 1194.2L1356.8 1194.1L1360.4 1193.8L1364.8 1193.4L1369.1 1193.2L1373.5 1193.1L1374 1193.1L1377.9 1193.1L1382.2 1193.2L1386.6 1193.3L1391 1193.4L1393.5 1193.4L1395.4 1193.4L1399.7 1193.5L1404.1 1193.5L1404.7 1193.3L1405 1200L1407 1413.5L1408.4 1518.7L1408.7 1518.7L1408.7 1514.3L1408.8 1510L1408.8 1505.6L1408.8 1501.2L1408.9 1496.8L1408.9 1492.5L1409 1488.1L1409 1483.7L1409.1 1479.4L1409.1 1475L1409.1 1470.6L1409.2 1466.2L1409.2 1461.9L1409.3 1457.5L1409.3 1453.1L1409.4 1448.8L1409.4 1444.4L1409.5 1440L1409.5 1440L1409.5 1435.6L1409.6 1431.3L1409.6 1426.9L1409.7 1422.5L1409.8 1418.2L1409.8 1413.8L1409.9 1409.4L1409.9 1405.1L1410 1400.7L1410.1 1396.3L1410.1 1391.9L1410.2 1387.6L1410.2 1383.2L1410.3 1380L1410.3 1378.8L1410.4 1374.5L1410.4 1370.1L1410.5 1365.7L1410.6 1361.3L1410.6 1357L1410.7 1352.6L1410.8 1348.2L1410.8 1343.9L1410.9 1339.5L1411 1335.1L1411 1330.7L1411.1 1326.4L1411.1 1322L1411.2 1317.6L1411.2 1313.3L1411.3 1310L1411.3 1308.9L1411.3 1304.5L1411.4 1300.2L1411.4 1295.8L1411.4 1291.4L1411.5 1287L1411.5 1282.7L1411.5 1278.3L1411.5 1273.9L1411.6 1269.6L1411.6 1265.2L1411.7 1260.8L1411.7 1260L1411.7 1256.4L1411.8 1252.1L1411.9 1247.7L1412 1243.3L1412.1 1239L1412.2 1234.6L1412.3 1230.3L1412.3 1230.2L1412.4 1225.8L1412.6 1221.5L1412.8 1217.1L1413.1 1213.1L1413.1 1212.8L1413.7 1208.4L1414.5 1204.1L1414.7 1203.6L1416.2 1199.9L1417.3 1198.4L1419.2 1197.1L1422.5 1195.9L1423.4 1195.7L1427.7 1194.8L1432.1 1194.2L1432.8 1194.1L1436.4 1193.8L1440.8 1193.4L1445.1 1193.2L1449.5 1193.1L1450 1193.1L1453.9 1193.1L1458.3 1193.2L1462.6 1193.3L1467 1193.4L1469.5 1193.4L1471.4 1193.4L1475.7 1193.5L1480.2 1193.3L1480.5 1200L1482.5 1414L1483.9 1518.7L1484.2 1518.7L1484.3 1514.3L1484.3 1510L1484.3 1505.6L1484.4 1501.2L1484.4 1496.8L1484.5 1492.5L1484.5 1488.1L1484.5 1483.7L1484.6 1479.4L1484.6 1475L1484.7 1470.6L1484.7 1466.2L1484.8 1461.9L1484.8 1457.5L1484.9 1453.1L1484.9 1448.8L1485 1444.4L1485 1440L1485 1440L1485.1 1435.6L1485.1 1431.3L1485.2 1426.9L1485.2 1422.5L1485.3 1418.2L1485.3 1413.8L1485.4 1409.4L1485.5 1405.1L1485.5 1400.7L1485.6 1396.3L1485.6 1391.9L1485.7 1387.6L1485.8 1383.2L1485.8 1380L1485.8 1378.8L1485.9 1374.5L1486 1370.1L1486 1365.7L1486.1 1361.3L1486.2 1357L1486.2 1352.6L1486.3 1348.2L1486.4 1343.9L1486.4 1339.5L1486.5 1335.1L1486.6 1330.7L1486.6 1326.4L1486.7 1322L1486.7 1317.6L1486.8 1313.3L1486.8 1310L1486.8 1308.9L1486.9 1304.5L1486.9 1300.2L1486.9 1295.8L1487 1291.4L1487 1287L1487 1282.7L1487 1278.3L1487.1 1273.9L1487.1 1269.6L1487.2 1265.2L1487.2 1260.8L1487.2 1260L1487.3 1256.4L1487.3 1252.1L1487.4 1247.7L1487.5 1243.3L1487.6 1239L1487.7 1234.6L1487.8 1230.3L1487.8 1230.2L1488 1225.8L1488.1 1221.5L1488.3 1217.1L1488.6 1213.1L1488.6 1212.8L1489.2 1208.4L1490.1 1204.1L1490.2 1203.6L1491.7 1199.9L1492.8 1198.4L1494.7 1197.1L1498 1195.9L1498.9 1195.7L1503.2 1194.8L1507.6 1194.2L1508.3 1194.1L1511.9 1193.8L1516.3 1193.4L1520.7 1193.2L1525 1193.1L1525.5 1193.1L1529.4 1193.1L1533.8 1193.2L1538.2 1193.3L1542.5 1193.4L1545 1193.4L1546.9 1193.4L1551.3 1193.5L1555.6 1193.3L1555.9 1200L1557.9 1415.5L1559.3 1518.7L1559.6 1518.7L1559.6 1514.3L1559.6 1510L1559.7 1505.6L1559.7 1501.2L1559.7 1496.8L1559.8 1492.5L1559.8 1488.1L1559.9 1483.7L1559.9 1479.4L1560 1475L1560 1470.6L1560.1 1466.2L1560.1 1461.9L1560.2 1457.5L1560.2 1453.1L1560.3 1448.8L1560.3 1444.4L1560.4 1440L1560.4 1440L1560.4 1435.6L1560.5 1431.3L1560.5 1426.9L1560.6 1422.5L1560.6 1418.2L1560.7 1413.8L1560.7 1409.4L1560.8 1405.1L1560.9 1400.7L1560.9 1396.3L1561 1391.9L1561 1387.6L1561.1 1383.2L1561.2 1380L1561.2 1378.8L1561.2 1374.5L1561.3 1370.1L1561.4 1365.7L1561.4 1361.3L1561.5 1357L1561.6 1352.6L1561.6 1348.2L1561.7 1343.9L1561.8 1339.5L1561.8 1335.1L1561.9 1330.7L1562 1326.4L1562 1322L1562.1 1317.6L1562.1 1313.3L1562.2 1310L1562.2 1308.9L1562.2 1304.5L1562.2 1300.2L1562.3 1295.8L1562.3 1291.4L1562.3 1287L1562.4 1282.7L1562.4 1278.3L1562.4 1273.9L1562.5 1269.6L1562.5 1265.2L1562.5 1260.8L1562.6 1260L1562.6 1256.4L1562.7 1252.1L1562.7 1247.7L1562.8 1243.3L1562.9 1239L1563 1234.6L1563.2 1230.3L1563.2 1230.2L1563.3 1225.8L1563.5 1221.5L1563.7 1217.1L1564 1213.1L1564 1212.8L1564.5 1208.4L1565.4 1204.1L1565.6 1203.6L1567.1 1199.9L1568.2 1198.4L1570 1197.1L1573.4 1195.9L1574.3 1195.7L1578.6 1194.8L1582.9 1194.2L1583.7 1194.1L1587.3 1193.8L1591.6 1193.4L1596 1193.2L1600.4 1193.1L1600.9 1193.1L1604.8 1193.1L1609.1 1193.2L1613.5 1193.3L1617.9 1193.4L1620.4 1193.4L1622.2 1193.4L1626.6 1193.5L1630.4 1193.3L1630.7 1200L1632.7 1417L1634.1 1518.7L1634.4 1518.7L1634.5 1514.3L1634.5 1510L1634.5 1505.6L1634.6 1501.2L1634.6 1496.8L1634.7 1492.5L1634.7 1488.1L1634.7 1483.7L1634.8 1479.4L1634.8 1475L1634.9 1470.6L1634.9 1466.2L1635 1461.9L1635 1457.5L1635.1 1453.1L1635.1 1448.8L1635.2 1444.4L1635.2 1440L1635.2 1440L1635.3 1435.6L1635.3 1431.3L1635.4 1426.9L1635.4 1422.5L1635.5 1418.2L1635.6 1413.8L1635.6 1409.4L1635.7 1405.1L1635.7 1400.7L1635.8 1396.3L1635.9 1391.9L1635.9 1387.6L1636 1383.2L1636 1380L1636 1378.8L1636.1 1374.5L1636.2 1370.1L1636.2 1365.7L1636.3 1361.3L1636.4 1357L1636.4 1352.6L1636.5 1348.2L1636.6 1343.9L1636.6 1339.5L1636.7 1335.1L1636.8 1330.7L1636.8 1326.4L1636.9 1322L1636.9 1317.6L1637 1313.3L1637 1310L1637 1308.9L1637.1 1304.5L1637.1 1300.2L1637.1 1295.8L1637.2 1291.4L1637.2 1287L1637.2 1282.7L1637.3 1278.3L1637.3 1273.9L1637.3 1269.6L1637.4 1265.2L1637.4 1260.8L1637.4 1260L1637.5 1256.4L1637.5 1252.1L1637.6 1247.7L1637.7 1243.3L1637.8 1239L1637.9 1234.6L1638 1230.3L1638 1230.2L1638.2 1225.8L1638.3 1221.5L1638.5 1217.1L1638.8 1213.1L1638.8 1212.8L1639.4 1208.4L1640.3 1204.1L1640.4 1203.6L1641.9 1199.9L1643 1198.4L1644.9 1197.1L1648.2 1195.9L1649.2 1195.7L1653.4 1194.8L1657.8 1194.2L1658.5 1194.1L1662.1 1193.8L1666.5 1193.4L1670.9 1193.2L1675.3 1193.1L1675.7 1193.1L1679.6 1193.1L1684 1193.2L1688.4 1193.3L1692.7 1193.4L1695.2 1193.4L1697.1 1193.4L1701.5 1193.5L1705.3 1193.3L1705.6 1200L1707.6 1417.8L1709 1518.7L1709.3 1518.7L1709.3 1514.3L1709.4 1510L1709.4 1505.6L1709.4 1501.2L1709.5 1496.8L1709.5 1492.5L1709.6 1488.1L1709.6 1483.7L1709.7 1479.4L1709.7 1475L1709.7 1470.6L1709.8 1466.2L1709.8 1461.9L1709.9 1457.5L1709.9 1453.1L1710 1448.8L1710 1444.4L1710.1 1440L1710.1 1440L1710.1 1435.6L1710.2 1431.3L1710.2 1426.9L1710.3 1422.5L1710.4 1418.2L1710.4 1413.8L1710.5 1409.4L1710.5 1405.1L1710.6 1400.7L1710.7 1396.3L1710.7 1391.9L1710.8 1387.6L1710.8 1383.2L1710.9 1380L1710.9 1378.8L1711 1374.5L1711 1370.1L1711.1 1365.7L1711.2 1361.3L1711.2 1357L1711.3 1352.6L1711.4 1348.2L1711.4 1343.9L1711.5 1339.5L1711.6 1335.1L1711.6 1330.7L1711.7 1326.4L1711.7 1322L1711.8 1317.6L1711.9 1313.3L1711.9 1310L1711.9 1308.9L1711.9 1304.5L1712 1300.2L1712 1295.8L1712 1291.4L1712.1 1287L1712.1 1282.7L1712.1 1278.3L1712.2 1273.9L1712.2 1269.6L1712.2 1265.2L1712.3 1260.8L1712.3 1260L1712.3 1256.4L1712.4 1252.1L1712.5 1247.7L1712.6 1243.3L1712.7 1239L1712.8 1234.6L1712.9 1230.3L1712.9 1230.2L1713 1225.8L1713.2 1221.5L1713.4 1217.1L1713.7 1213.1L1713.7 1212.8L1714.3 1208.4L1715.2 1204.1L1715.3 1203.6L1716.8 1199.9L1717.9 1198.4L1719.8 1197.1L1723.1 1195.9L1724 1195.7L1728.3 1194.8L1732.7 1194.2L1733.4 1194.1L1737 1193.8L1741.4 1193.4L1745.7 1193.2L1750.1 1193.1L1750.6 1193.1L1754.5 1193.1L1758.9 1193.2L1763.2 1193.3L1767.6 1193.4L1770.1 1193.4L1772 1193.4L1776.3 1193.5L1780.2 1193.3L1780.5 1200L1782.5 1417.8L1783.9 1518.7L1784.2 1518.7L1784.2 1514.3L1784.2 1510L1784.3 1505.6L1784.3 1501.2L1784.3 1496.8L1784.4 1492.5L1784.4 1488.1L1784.5 1483.7L1784.5 1479.4L1784.6 1475L1784.6 1470.6L1784.7 1466.2L1784.7 1461.9L1784.8 1457.5L1784.8 1453.1L1784.8 1448.8L1784.9 1444.4L1784.9 1440L1785 1440L1785 1435.6L1785.1 1431.3L1785.1 1426.9L1785.2 1422.5L1785.2 1418.2L1785.3 1413.8L1785.3 1409.4L1785.4 1405.1L1785.5 1400.7L1785.5 1396.3L1785.6 1391.9L1785.6 1387.6L1785.7 1383.2L1785.8 1380L1785.8 1378.8L1785.8 1374.5L1785.9 1370.1L1786 1365.7L1786 1361.3L1786.1 1357L1786.2 1352.6L1786.2 1348.2L1786.3 1343.9L1786.4 1339.5L1786.4 1335.1L1786.5 1330.7L1786.6 1326.4L1786.6 1322L1786.7 1317.6L1786.7 1313.3L1786.8 1310L1786.8 1308.9L1786.8 1304.5L1786.8 1300.2L1786.9 1295.8L1786.9 1291.4L1786.9 1287L1787 1282.7L1787 1278.3L1787 1273.9L1787.1 1269.6L1787.1 1265.2L1787.1 1260.8L1787.2 1260L1787.2 1256.4L1787.3 1252.1L1787.3 1247.7L1787.4 1243.3L1787.5 1239L1787.6 1234.6L1787.8 1230.3L1787.8 1230.2L1787.9 1225.8L1788.1 1221.5L1788.3 1217.1L1788.6 1213.1L1788.6 1212.8L1789.1 1208.4L1790 1204.1L1790.2 1203.6L1791.6 1199.9L1792.8 1198.4L1794.6 1197.1L1798 1195.9L1798.9 1195.7L1803.2 1194.8L1807.5 1194.2L1808.3 1194.1L1811.9 1193.8L1816.2 1193.4L1820.6 1193.2L1825 1193.1L1825.5 1193.1L1829.4 1193.1L1833.7 1193.2" fill="none" stroke="#1212f0" stroke-width="2.3" stroke-linejoin="round"/>
<path clip-path="url(#cp-f)" d="M1068.4 1186.5L1169.1 1186.5L1169.7 1188L1169.9 1425.2L1170.7 1425.2L1170.8 1413.2L1171.4 1412.2L1171.5 1425.2L1173.7 1519.2L1174 1519.2L1174.6 1188L1175.2 1186.5L1249.8 1186.5L1250.4 1188L1250.6 1425.2L1251.4 1425.2L1251.5 1413.2L1252.1 1412.2L1252.2 1425.2L1254.4 1519.2L1254.7 1519.2L1255.3 1188L1255.9 1186.5L1327.8 1186.5L1328.4 1188L1328.6 1426L1329.4 1426L1329.5 1414L1330.1 1413L1330.2 1426L1332.4 1519.2L1332.7 1519.2L1333.3 1188L1333.9 1186.5L1403.8 1186.5L1404.4 1188L1404.6 1426.5L1405.4 1426.5L1405.5 1414.5L1406.1 1413.5L1406.2 1426.5L1408.4 1519.2L1408.7 1519.2L1409.3 1188L1409.9 1186.5L1479.3 1186.5L1479.9 1188L1480.1 1427L1480.9 1427L1481 1415L1481.6 1414L1481.7 1427L1483.9 1519.2L1484.2 1519.2L1484.8 1188L1485.4 1186.5L1554.7 1186.5L1555.3 1188L1555.5 1428.5L1556.3 1428.5L1556.4 1416.5L1557 1415.5L1557.1 1428.5L1559.3 1519.2L1559.6 1519.2L1560.2 1188L1560.8 1186.5L1629.5 1186.5L1630.1 1188L1630.3 1430L1631.1 1430L1631.2 1418L1631.8 1417L1631.9 1430L1634.1 1519.2L1634.4 1519.2L1635 1188L1635.6 1186.5L1704.4 1186.5L1705 1188L1705.2 1430.8L1706 1430.8L1706.1 1418.8L1706.7 1417.8L1706.8 1430.8L1709 1519.2L1709.3 1519.2L1709.9 1188L1710.5 1186.5L1779.3 1186.5L1779.9 1188L1780.1 1430.8L1780.9 1430.8L1781 1418.8L1781.6 1417.8L1781.7 1430.8L1783.9 1519.2L1784.2 1519.2L1784.8 1188L1785.4 1186.5L1836.7 1186.5" fill="none" stroke="#f51a1a" stroke-width="2.3" stroke-linejoin="round"/>
<rect x="1070" y="364.6" width="359.5" height="84.2" fill="#fff" stroke="#9c9c9c" stroke-width="1.3"/>
<path d="M1072.5 386.2H1099.6" stroke="#1212f0" stroke-width="2.2"/>
<path d="M1072.5 426.4H1099.6" stroke="#f51a1a" stroke-width="2.2"/>
<g font-family="Liberation Sans, Arial, Helvetica, sans-serif" font-size="32.4" fill="#0a0a0a"><text x="1100.9" y="398.2">Electrochemical Model</text><text x="1100.9" y="439.4">Experiment</text></g>
<rect x="1067.1" y="914.5" width="358.4" height="83.2" fill="#fff" stroke="#9c9c9c" stroke-width="1.3"/>
<path d="M1069.6 936H1096.4" stroke="#1212f0" stroke-width="2.2"/>
<path d="M1069.6 976.2H1096.4" stroke="#f51a1a" stroke-width="2.2"/>
<g font-family="Liberation Sans, Arial, Helvetica, sans-serif" font-size="32.4" fill="#0a0a0a"><text x="1097.3" y="947.7">Electrochemical Model</text><text x="1097.3" y="988.4">Experiment</text></g>
<rect x="1073.1" y="1425.1" width="345.2" height="80.7" fill="#fff" stroke="#9c9c9c" stroke-width="1.3"/>
<path d="M1076.1 1446.2H1102.2" stroke="#1212f0" stroke-width="2.2"/>
<path d="M1076.1 1485.4H1102.2" stroke="#f51a1a" stroke-width="2.2"/>
<g font-family="Liberation Sans, Arial, Helvetica, sans-serif" font-size="31.1" fill="#0a0a0a"><text x="1102.7" y="1458.2">Electrochemical Model</text><text x="1102.7" y="1497.6">Experiment</text></g>
<g font-family="Liberation Sans, Arial, Helvetica, sans-serif" fill="#202020">
<text transform="translate(109.1 503.5)" font-size="36.3" text-anchor="middle">0</text>
<text transform="translate(291.7 503.5)" font-size="36.3" text-anchor="middle">2000</text>
<text transform="translate(474.3 503.5)" font-size="36.3" text-anchor="middle">4000</text>
<text transform="translate(657 503.5)" font-size="36.3" text-anchor="middle">6000</text>
<text transform="translate(839.6 503.5)" font-size="36.3" text-anchor="middle">8000</text>
<text transform="translate(99.4 111.1)" font-size="36.3" text-anchor="end">10</text>
<text transform="translate(99.4 201.1)" font-size="36.3" text-anchor="end">5</text>
<text transform="translate(99.4 291.2)" font-size="36.3" text-anchor="end">0</text>
<text transform="translate(99.4 381.2)" font-size="36.3" text-anchor="end">-5</text>
<text transform="translate(99.4 471.2)" font-size="36.3" text-anchor="end">-10</text>
<text transform="translate(512 552.2)" font-size="40.1" text-anchor="middle">Time (s)</text>
<text transform="translate(35.4 275.6) rotate(-90)" font-size="40.1" text-anchor="middle">Current (A)</text>
</g>
<g font-family="Liberation Sans, Arial, Helvetica, sans-serif" fill="#000" font-weight="bold" letter-spacing="4"><text transform="translate(26.3 41) scale(1 1.04)" font-size="46">a)</text></g>
<g font-family="Liberation Sans, Arial, Helvetica, sans-serif" fill="#202020">
<text transform="translate(1056.4 503.8)" font-size="36.3" text-anchor="middle">0</text>
<text transform="translate(1238.4 503.8)" font-size="36.3" text-anchor="middle">2000</text>
<text transform="translate(1420.3 503.8)" font-size="36.3" text-anchor="middle">4000</text>
<text transform="translate(1602.2 503.8)" font-size="36.3" text-anchor="middle">6000</text>
<text transform="translate(1784.2 503.8)" font-size="36.3" text-anchor="middle">8000</text>
<text transform="translate(1047.6 113.1)" font-size="36.3" text-anchor="end">3.5</text>
<text transform="translate(1047.6 232.8)" font-size="36.3" text-anchor="end">3</text>
<text transform="translate(1047.6 352.5)" font-size="36.3" text-anchor="end">2.5</text>
<text transform="translate(1047.6 472.2)" font-size="36.3" text-anchor="end">2</text>
<text transform="translate(1457.8 552.2)" font-size="40.1" text-anchor="middle">Time(s)</text>
<text transform="translate(985 278.1) rotate(-90)" font-size="40.1" text-anchor="middle">Voltage (V)</text>
</g>
<g font-family="Liberation Sans, Arial, Helvetica, sans-serif" fill="#000" font-weight="bold" letter-spacing="4"><text transform="translate(932.7 40.6) scale(1 1.04)" font-size="46">b)</text></g>
<g font-family="Liberation Sans, Arial, Helvetica, sans-serif" fill="#202020">
<text transform="translate(110 1050.5)" font-size="36.1" text-anchor="middle">0</text>
<text transform="translate(300.6 1050.5)" font-size="36.1" text-anchor="middle">1000</text>
<text transform="translate(491.3 1050.5)" font-size="36.1" text-anchor="middle">2000</text>
<text transform="translate(682 1050.5)" font-size="36.1" text-anchor="middle">3000</text>
<text transform="translate(872.6 1050.5)" font-size="36.1" text-anchor="middle">4000</text>
<text transform="translate(99.6 662.9)" font-size="36.1" text-anchor="end">10</text>
<text transform="translate(99.6 752)" font-size="36.1" text-anchor="end">5</text>
<text transform="translate(99.6 841.1)" font-size="36.1" text-anchor="end">0</text>
<text transform="translate(99.6 930.2)" font-size="36.1" text-anchor="end">-5</text>
<text transform="translate(99.6 1019.3)" font-size="36.1" text-anchor="end">-10</text>
<text transform="translate(507.9 1098.4)" font-size="40.0" text-anchor="middle">Time (s)</text>
<text transform="translate(36 824.3) rotate(-90)" font-size="40.0" text-anchor="middle">Current (A)</text>
</g>
<g font-family="Liberation Sans, Arial, Helvetica, sans-serif" fill="#000" font-weight="bold" letter-spacing="4" clip-path="url(#cp-ctag)"><text transform="translate(36.3 607) scale(1 1.04)" font-size="46">c)</text></g>
<g font-family="Liberation Sans, Arial, Helvetica, sans-serif" fill="#202020">
<text transform="translate(1061.6 1050.4)" font-size="36.1" text-anchor="middle">0</text>
<text transform="translate(1252.7 1050.4)" font-size="36.1" text-anchor="middle">1000</text>
<text transform="translate(1443.8 1050.4)" font-size="36.1" text-anchor="middle">2000</text>
<text transform="translate(1634.9 1050.4)" font-size="36.1" text-anchor="middle">3000</text>
<text transform="translate(1826 1050.4)" font-size="36.1" text-anchor="middle">4000</text>
<text transform="translate(1052 661.5)" font-size="36.1" text-anchor="end">3.5</text>
<text transform="translate(1052 780.3)" font-size="36.1" text-anchor="end">3</text>
<text transform="translate(1052 899.1)" font-size="36.1" text-anchor="end">2.5</text>
<text transform="translate(1052 1017.9)" font-size="36.1" text-anchor="end">2</text>
<text transform="translate(1460.9 1098.7)" font-size="40.0" text-anchor="middle">Time(s)</text>
<text transform="translate(990.9 825.7) rotate(-90)" font-size="40.0" text-anchor="middle">Voltage (V)</text>
</g>
<g font-family="Liberation Sans, Arial, Helvetica, sans-serif" fill="#000" font-weight="bold" letter-spacing="4"><text transform="translate(938.3 606.5) scale(1 1.04)" font-size="46">d)</text></g>
<g font-family="Liberation Sans, Arial, Helvetica, sans-serif" fill="#202020" clip-path="url(#cp-etext)">
<text transform="translate(110.2 1563) scale(1 0.955)" font-size="36.5" text-anchor="middle">0</text>
<text transform="translate(245 1563) scale(1 0.955)" font-size="36.5" text-anchor="middle">2000</text>
<text transform="translate(379.8 1563) scale(1 0.955)" font-size="36.5" text-anchor="middle">4000</text>
<text transform="translate(514.5 1563) scale(1 0.955)" font-size="36.5" text-anchor="middle">6000</text>
<text transform="translate(649.3 1563) scale(1 0.955)" font-size="36.5" text-anchor="middle">8000</text>
<text transform="translate(784.1 1563) scale(1 0.955)" font-size="36.5" text-anchor="middle">10000</text>
<text transform="translate(918.9 1563) scale(1 0.955)" font-size="36.5" text-anchor="middle">12000</text>
<text transform="translate(99.6 1189.6) scale(1 0.955)" font-size="36.5" text-anchor="end">10</text>
<text transform="translate(99.6 1275.4) scale(1 0.955)" font-size="36.5" text-anchor="end">5</text>
<text transform="translate(99.6 1361.3) scale(1 0.955)" font-size="36.5" text-anchor="end">0</text>
<text transform="translate(99.6 1447.1) scale(1 0.955)" font-size="36.5" text-anchor="end">-5</text>
<text transform="translate(99.6 1533) scale(1 0.955)" font-size="36.5" text-anchor="end">-10</text>
<text transform="translate(514.5 1608.8) scale(1 0.955)" font-size="40.3" text-anchor="middle">Time (s)</text>
<text transform="translate(35.4 1345.3) scale(1 0.955) rotate(-90)" font-size="40.3" text-anchor="middle">Current (A)</text>
</g>
<g font-family="Liberation Sans, Arial, Helvetica, sans-serif" fill="#000" font-weight="bold" letter-spacing="4"><text transform="translate(41.4 1136.5) scale(1 1.04)" font-size="46">e)</text></g>
<g font-family="Liberation Sans, Arial, Helvetica, sans-serif" fill="#202020">
<text transform="translate(1068.4 1563)" font-size="35.0" text-anchor="middle">0</text>
<text transform="translate(1196.5 1563)" font-size="35.0" text-anchor="middle">2000</text>
<text transform="translate(1324.5 1563)" font-size="35.0" text-anchor="middle">4000</text>
<text transform="translate(1452.6 1563)" font-size="35.0" text-anchor="middle">6000</text>
<text transform="translate(1580.6 1563)" font-size="35.0" text-anchor="middle">8000</text>
<text transform="translate(1708.7 1563)" font-size="35.0" text-anchor="middle">10000</text>
<text transform="translate(1836.7 1563)" font-size="35.0" text-anchor="middle">12000</text>
<text transform="translate(1058.8 1189.3)" font-size="35.0" text-anchor="end">3.5</text>
<text transform="translate(1058.8 1303.8)" font-size="35.0" text-anchor="end">3</text>
<text transform="translate(1058.8 1418.2)" font-size="35.0" text-anchor="end">2.5</text>
<text transform="translate(1058.8 1532.7)" font-size="35.0" text-anchor="end">2</text>
<text transform="translate(1452.6 1608.8)" font-size="38.4" text-anchor="middle">Time(s)</text>
<text transform="translate(999.4 1346) rotate(-90)" font-size="38.4" text-anchor="middle">Voltage (V)</text>
</g>
<g font-family="Liberation Sans, Arial, Helvetica, sans-serif" fill="#000" font-weight="bold" letter-spacing="4"><text transform="translate(936.2 1135.9) scale(1 1.04)" font-size="46">f)</text></g>
</svg>
</body></html>
